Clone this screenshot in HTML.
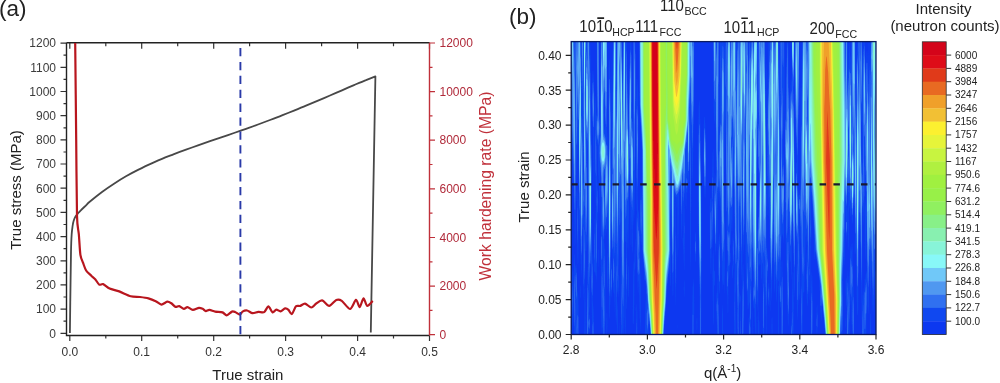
<!DOCTYPE html>
<html><head><meta charset="utf-8"><style>
html,body{margin:0;padding:0;background:#fff;width:1000px;height:383px;overflow:hidden}
svg{display:block;font-family:"Liberation Sans",sans-serif;filter:blur(0.3px)}
</style></head><body>
<svg width="1000" height="383" viewBox="0 0 1000 383">
<defs><filter id="hb" x="-5%" y="-5%" width="110%" height="110%"><feGaussianBlur stdDeviation="0.7"/></filter></defs>
<g fill="none" stroke-linecap="butt">
<path d="M69.8 335.5v5.5M69.8 42.8v6M105.8 335.5v3M105.8 42.8v3.5M141.7 335.5v5.5M141.7 42.8v6M177.7 335.5v3M177.7 42.8v3.5M213.7 335.5v5.5M213.7 42.8v6M249.6 335.5v3M249.6 42.8v3.5M285.6 335.5v5.5M285.6 42.8v6M321.6 335.5v3M321.6 42.8v3.5M357.6 335.5v5.5M357.6 42.8v6M393.5 335.5v3M393.5 42.8v3.5M429.5 335.5v5.5M429.5 42.8v6M66.5 333.3h-6M66.5 321.2h-3M66.5 309.1h-6M66.5 297.0h-3M66.5 284.9h-6M66.5 272.9h-3M66.5 260.8h-6M66.5 248.7h-3M66.5 236.6h-6M66.5 224.5h-3M66.5 212.4h-6M66.5 200.3h-3M66.5 188.2h-6M66.5 176.1h-3M66.5 164.0h-6M66.5 152.0h-3M66.5 139.9h-6M66.5 127.8h-3M66.5 115.7h-6M66.5 103.6h-3M66.5 91.5h-6M66.5 79.4h-3M66.5 67.3h-6M66.5 55.2h-3M66.5 43.1h-6" stroke="#333" stroke-width="1.2"/>
<path d="M429.5 334.7h5.5M429.5 310.4h3M429.5 286.1h5.5M429.5 261.8h3M429.5 237.5h5.5M429.5 213.1h3M429.5 188.8h5.5M429.5 164.5h3M429.5 140.2h5.5M429.5 115.9h3M429.5 91.6h5.5M429.5 67.3h3M429.5 43.0h5.5" stroke="#c0303a" stroke-width="1.2"/>
<path d="M66.5 42.8V335.5H429.5M66.5 42.8H429.5" stroke="#222" stroke-width="1.4"/>
<path d="M429.5 42.8V335.5" stroke="#c0303a" stroke-width="1.4"/>
</g>
<g font-size="12" fill="#3c3c3c" text-anchor="end">
<text x="56" y="337.6">0</text>
<text x="56" y="313.4">100</text>
<text x="56" y="289.2">200</text>
<text x="56" y="265.1">300</text>
<text x="56" y="240.9">400</text>
<text x="56" y="216.7">500</text>
<text x="56" y="192.5">600</text>
<text x="56" y="168.3">700</text>
<text x="56" y="144.2">800</text>
<text x="56" y="120.0">900</text>
<text x="56" y="95.8">1000</text>
<text x="56" y="71.6">1100</text>
<text x="56" y="47.4">1200</text>
</g>
<g font-size="12" fill="#b02a3a" text-anchor="start">
<text x="439.5" y="338.9">0</text>
<text x="439.5" y="290.3">2000</text>
<text x="439.5" y="241.7">4000</text>
<text x="439.5" y="193.0">6000</text>
<text x="439.5" y="144.4">8000</text>
<text x="439.5" y="95.8">10000</text>
<text x="439.5" y="47.2">12000</text>
</g>
<g font-size="12" fill="#333" text-anchor="middle">
<text x="69.8" y="356">0.0</text>
<text x="141.7" y="356">0.1</text>
<text x="213.7" y="356">0.2</text>
<text x="285.6" y="356">0.3</text>
<text x="357.6" y="356">0.4</text>
<text x="429.5" y="356">0.5</text>
</g>
<text x="212.3" y="379.8" font-size="15" fill="#222">True strain</text>
<text transform="translate(21.2 190) rotate(-90)" font-size="15" fill="#222" text-anchor="middle">True stress (MPa)</text>
<text transform="translate(490.8 186) rotate(-90)" font-size="15.7" fill="#c0303a" text-anchor="middle">Work hardening rate (MPa)</text>
<text x="-1" y="16.3" font-size="22.5" fill="#222">(a)</text>
<path d="M69.9 333.0 C70.0 327.5 70.1 313.5 70.3 300.0 C70.5 286.5 70.8 263.0 71.0 252.0 C71.2 241.0 71.4 238.3 71.7 234.0 C72.0 229.7 72.3 228.2 72.6 226.0 C72.9 223.8 73.1 222.6 73.6 221.0 C74.1 219.4 74.7 217.8 75.5 216.5 C76.3 215.2 76.8 214.7 78.3 213.0 C79.8 211.3 82.8 208.4 84.8 206.5 C86.8 204.6 87.1 203.9 90.0 201.5 C92.9 199.1 98.0 195.0 102.0 192.0 C106.0 189.0 110.0 186.3 114.0 183.7 C118.0 181.1 122.0 178.6 126.0 176.3 C130.0 174.0 134.0 171.9 138.0 169.9 C142.0 167.9 146.0 165.9 150.0 164.1 C154.0 162.3 158.0 160.6 162.0 158.9 C166.0 157.2 170.0 155.7 174.0 154.1 C178.0 152.5 182.0 151.0 186.0 149.6 C190.0 148.2 194.0 146.8 198.0 145.4 C202.0 144.0 206.0 142.6 210.0 141.2 C214.0 139.8 218.0 138.5 222.0 137.1 C226.0 135.7 230.0 134.4 234.0 133.0 C238.0 131.6 242.0 130.2 246.0 128.8 C250.0 127.4 254.0 126.0 258.0 124.5 C262.0 123.0 266.0 121.5 270.0 120.0 C274.0 118.5 278.0 117.0 282.0 115.4 C286.0 113.8 290.0 112.2 294.0 110.6 C298.0 109.0 302.0 107.4 306.0 105.7 C310.0 104.0 314.0 102.3 318.0 100.6 C322.0 98.9 326.0 97.2 330.0 95.5 C334.0 93.8 338.0 92.0 342.0 90.3 C346.0 88.6 350.0 86.8 354.0 85.1 C358.0 83.4 362.4 81.5 366.0 80.1 C369.6 78.6 373.8 77.0 375.4 76.4 L370.8 332.5" fill="none" stroke="#484848" stroke-width="1.8" stroke-linejoin="round"/>
<path d="M75.2 43.0 C75.3 55.9 76.0 117.0 76.2 140.0 C76.4 163.0 76.7 203.2 77.0 215.7 C77.3 228.2 78.3 228.8 78.8 234.0 C79.3 239.2 79.8 251.0 80.4 254.8 C81.0 258.6 82.2 260.6 83.0 262.7 C83.8 264.8 85.0 268.8 86.1 270.5 C87.2 272.2 90.1 274.5 91.3 275.7 C92.5 276.9 94.1 278.0 95.2 279.2 C96.3 280.4 98.1 283.9 99.2 284.6 C100.3 285.3 101.7 283.6 103.1 284.1 C104.5 284.6 107.5 287.6 109.6 288.6 C111.7 289.6 116.4 290.4 119.2 291.4 C122.0 292.4 127.9 295.5 130.7 296.2 C133.5 296.9 137.6 296.7 140.0 297.0 C142.4 297.3 146.3 297.8 148.4 298.4 C150.5 299.0 154.0 300.4 155.7 301.2 C157.4 302.0 159.9 304.5 161.4 304.6 C162.9 304.7 165.9 301.9 167.2 301.7 C168.5 301.5 170.2 302.6 171.3 303.3 C172.4 304.0 174.4 306.5 175.5 306.9 C176.6 307.3 178.1 305.8 179.2 306.1 C180.3 306.4 182.8 308.7 183.9 308.8 C185.0 308.9 186.3 307.1 187.5 307.2 C188.7 307.3 191.3 309.8 192.8 309.9 C194.3 310.0 197.7 307.9 199.0 307.8 C200.3 307.7 201.8 308.4 202.7 308.8 C203.6 309.2 204.9 311.0 205.8 311.1 C206.7 311.2 208.2 309.8 209.5 309.9 C210.8 310.0 213.5 311.3 215.2 311.6 C216.9 311.9 221.0 311.9 222.5 312.4 C224.0 312.9 225.4 315.4 226.7 315.3 C228.0 315.2 230.9 312.0 232.0 311.6 C233.1 311.2 234.0 311.6 235.1 312.0 C236.2 312.4 239.0 314.7 240.0 314.6 C241.0 314.5 241.6 312.1 242.5 311.6 C243.4 311.1 245.8 310.3 247.1 310.5 C248.4 310.7 251.0 313.0 252.5 313.2 C254.0 313.4 256.8 312.0 258.4 311.9 C260.0 311.8 262.9 312.8 264.2 312.1 C265.5 311.4 267.3 306.3 268.4 306.3 C269.5 306.3 271.5 312.0 272.6 312.4 C273.7 312.8 275.2 309.7 276.3 309.6 C277.4 309.5 279.3 311.5 280.5 311.3 C281.7 311.1 284.0 308.6 285.1 308.4 C286.2 308.2 287.6 309.1 288.5 309.9 C289.4 310.7 290.8 314.6 291.8 314.1 C292.8 313.6 294.9 307.4 296.0 306.3 C297.1 305.2 299.0 306.3 300.2 305.9 C301.4 305.5 303.5 303.4 305.0 303.6 C306.5 303.8 309.8 307.5 311.3 307.5 C312.8 307.5 314.5 304.7 315.9 303.8 C317.3 302.9 320.3 300.1 322.1 300.4 C323.9 300.7 327.3 306.0 329.2 305.9 C331.1 305.8 334.6 300.7 336.3 300.0 C338.0 299.3 340.0 299.7 341.8 300.9 C343.6 302.1 348.2 309.1 350.1 309.0 C352.0 308.9 354.7 300.2 356.0 299.9 C357.3 299.6 358.7 307.3 359.7 307.1 C360.7 306.9 362.5 298.6 363.5 298.4 C364.5 298.2 366.0 305.6 367.2 305.9 C368.4 306.2 372.0 301.6 372.7 300.9" fill="none" stroke="#b8161e" stroke-width="2.2" stroke-linejoin="round"/>
<path d="M240.4 48V336" stroke="#2a3aa8" stroke-width="1.9" stroke-dasharray="8.3 5.6"/>
<svg x="571.2" y="41.6" width="304.80" height="292.90" viewBox="571.2 41.6 304.80 292.90" overflow="hidden"><g filter="url(#hb)"><rect x="568.2" y="38.6" width="310.8" height="298.9" fill="#0c38f0"/><path fill="#1048f0" d="M593.7 335.6 592.0 335.6 591.8 306.6 591.1 283.6 591.2 260.5 590.7 261.7 590.0 284.6 589.7 315.6 590.1 321.6 590.0 328.6 589.2 332.4 588.7 331.7 588.4 335.6 586.6 335.6 587.3 277.6 587.7 266.2 588.2 267.3 588.3 262.6 588.1 159.6 587.7 142.6 587.7 142.3 587.0 151.6 587.6 199.6 586.9 239.6 586.2 251.7 585.7 250.6 585.6 251.6 585.2 275.5 584.5 287.6 584.2 288.3 583.7 301.8 583.4 286.6 583.2 224.6 583.2 223.9 582.7 225.7 582.6 227.6 581.8 269.6 581.2 278.0 580.4 245.6 580.2 191.6 580.2 191.0 579.9 215.6 579.2 233.8 578.8 211.6 578.7 141.6 578.7 140.1 578.2 144.4 577.7 138.9 576.1 179.6 575.7 233.6 575.2 244.3 574.7 246.5 574.6 232.6 572.7 154.3 572.2 177.8 571.7 180.4 571.1 61.6 570.6 39.6 583.5 39.6 583.7 51.1 583.7 39.6 586.8 39.6 587.2 51.8 587.3 39.6 589.9 39.6 590.7 60.6 590.7 100.6 591.5 143.6 591.6 191.6 592.1 249.6 592.2 253.1 592.7 257.0 592.9 264.6 593.0 286.6 592.7 300.6 593.7 312.6 594.0 335.6 593.7 335.6ZM604.2 335.6 603.3 335.6 603.2 328.2 602.7 327.3 602.2 334.9 601.9 333.6 601.7 332.4 601.2 320.8 601.1 287.6 600.7 251.6 601.0 229.6 600.7 172.6 600.2 170.1 599.7 217.4 598.7 181.3 598.2 174.4 597.6 146.6 597.5 144.6 596.7 140.6 596.9 171.6 597.5 184.6 597.8 201.6 597.6 216.6 597.1 229.6 597.0 264.6 596.7 283.2 595.7 272.1 595.2 276.2 594.7 271.6 594.2 272.3 593.9 270.6 593.6 265.6 593.7 256.6 594.3 247.6 594.6 222.6 594.7 219.6 595.2 217.1 595.7 236.0 595.9 204.6 595.0 168.6 594.8 116.6 595.2 95.6 595.7 99.3 596.2 115.7 596.7 115.4 597.2 111.6 596.7 39.6 598.9 39.6 599.2 114.6 599.9 121.6 600.2 133.9 600.7 39.6 607.1 39.6 606.9 129.6 607.6 139.6 607.9 148.6 608.2 184.5 608.7 138.6 608.5 83.6 608.7 68.6 609.2 58.0 609.7 61.3 610.4 79.6 610.9 110.6 611.1 140.6 611.0 205.6 610.6 271.6 610.7 281.5 611.0 265.6 611.7 260.8 612.1 270.6 612.0 286.6 611.7 294.0 611.2 298.2 610.8 293.6 610.7 286.8 609.7 319.9 609.2 315.9 608.7 282.5 608.3 273.6 608.4 232.6 608.2 222.4 607.7 214.2 607.2 228.8 606.7 229.1 605.7 237.1 605.2 222.3 604.3 237.6 603.9 240.6 604.7 248.7 605.2 250.6 605.4 276.6 605.3 319.6 604.7 328.3 604.6 335.6 604.2 335.6ZM625.2 335.6 625.0 335.6 624.5 315.6 624.2 281.9 623.9 315.6 623.5 335.6 622.6 335.6 622.2 328.0 621.9 335.6 621.0 335.6 620.6 286.6 620.8 270.6 621.3 254.6 621.2 245.8 620.2 220.9 619.7 229.3 618.6 270.6 618.7 274.4 619.2 275.8 619.2 279.6 619.2 289.4 618.7 299.1 618.2 286.1 617.7 291.4 617.2 292.9 617.0 296.6 617.2 310.8 617.7 301.9 617.8 304.6 617.8 335.6 617.3 335.6 617.2 334.6 616.7 314.2 616.2 325.3 615.6 315.6 615.2 245.9 614.7 254.8 614.6 262.6 615.0 283.6 614.7 315.8 614.2 294.6 613.4 291.6 613.0 286.6 612.8 263.6 612.0 247.6 611.5 219.6 611.4 192.6 611.8 142.6 611.4 103.6 611.6 70.6 612.2 44.2 612.7 105.3 613.2 39.6 616.1 39.6 616.1 66.6 616.7 76.9 617.1 39.6 621.8 39.6 622.7 83.7 623.2 58.3 623.3 39.6 625.7 39.6 625.7 88.2 625.8 39.6 626.7 39.6 627.5 75.6 627.7 103.0 628.5 126.6 628.7 144.4 629.3 73.6 630.3 39.6 631.4 39.6 631.8 66.6 631.7 104.6 632.3 111.6 632.7 129.1 633.2 133.9 633.2 39.6 635.3 39.6 635.6 63.6 635.5 97.6 635.1 130.6 635.1 176.6 634.4 213.6 633.7 226.1 633.2 210.2 632.8 229.6 632.9 244.6 632.7 249.4 632.2 253.4 631.8 245.6 632.1 231.6 631.7 216.6 631.2 243.0 630.7 246.3 630.3 203.6 630.0 197.6 630.1 186.6 629.2 170.3 628.9 186.6 629.0 212.6 628.2 251.6 627.6 245.6 627.2 229.1 626.9 234.6 627.2 268.6 626.7 309.4 626.2 308.6 626.0 299.6 626.0 262.6 626.2 244.6 626.2 242.9 625.7 241.3 625.2 242.4 624.7 199.3 624.4 251.6 625.3 278.6 625.6 315.6 625.9 323.6 625.5 335.6 625.2 335.6ZM663.2 335.6 650.5 335.6 649.2 320.4 648.9 322.6 648.5 335.6 647.8 335.6 647.7 335.2 647.6 335.6 647.0 335.6 646.7 332.7 646.5 335.6 644.9 335.6 645.2 312.1 645.7 299.3 646.2 302.5 646.2 288.6 645.2 279.5 644.7 279.4 644.2 281.6 643.9 268.6 642.4 250.6 642.2 216.7 642.0 237.6 641.8 241.6 641.2 245.8 640.7 239.6 640.3 228.6 640.2 204.6 640.7 187.8 641.2 188.9 641.7 199.2 641.9 194.6 642.1 150.6 639.6 104.6 639.3 39.6 694.3 39.6 693.4 137.6 692.7 175.5 692.2 185.9 691.8 153.6 691.2 131.9 691.2 133.6 691.1 240.6 690.7 273.6 690.2 255.2 690.0 233.6 689.7 132.6 689.9 108.6 689.7 104.6 689.7 145.6 689.3 168.6 688.7 181.9 688.2 182.9 687.7 172.8 687.6 173.6 687.6 185.6 687.2 193.5 687.1 192.6 686.7 191.9 686.6 192.6 686.2 210.2 685.7 204.0 685.2 183.9 684.7 178.2 684.4 200.6 684.8 247.6 684.7 259.6 684.2 272.3 683.4 250.6 682.7 240.6 682.7 238.1 683.2 237.8 683.4 229.6 683.1 179.6 682.7 177.3 682.4 222.6 681.9 237.6 681.7 240.6 681.1 225.6 680.6 193.6 680.2 187.9 679.1 192.6 678.3 246.6 677.7 260.5 677.4 211.6 677.4 208.6 677.7 207.6 677.8 196.6 677.7 195.9 677.5 196.6 677.4 206.6 677.2 207.4 676.7 207.4 676.4 197.6 675.7 196.3 675.4 197.6 675.5 206.6 675.8 211.6 676.0 223.6 676.3 252.6 676.1 289.6 675.7 309.6 675.3 285.6 675.3 220.6 674.9 195.6 674.2 191.7 673.8 269.6 673.2 295.3 672.7 296.1 672.0 271.6 671.7 235.9 671.0 211.6 670.7 173.4 670.5 226.6 670.9 256.6 670.7 283.9 670.2 287.0 669.6 271.6 669.2 268.9 667.0 290.6 665.9 308.6 664.6 321.6 663.6 335.6 663.2 335.6ZM766.7 335.6 766.2 335.6 766.1 324.6 764.7 275.7 764.1 335.6 762.9 335.6 762.8 306.6 763.2 279.6 762.9 261.6 762.7 237.5 762.5 269.6 762.2 289.8 761.7 279.5 761.2 277.5 761.0 273.6 760.7 251.3 760.5 263.6 759.7 266.0 759.2 263.6 758.7 265.5 758.6 267.6 758.5 290.6 758.2 304.6 758.7 319.5 759.2 321.0 759.3 322.6 759.5 335.6 757.8 335.6 757.9 311.6 757.0 300.6 756.7 284.6 756.0 311.6 756.5 335.6 755.4 335.6 754.7 322.1 754.3 309.6 754.2 308.1 753.7 308.5 753.0 301.6 752.9 289.6 753.3 280.6 752.7 244.9 752.4 262.6 751.7 276.0 750.8 335.6 748.6 335.6 748.7 318.6 749.2 316.5 749.7 312.5 749.7 301.6 748.2 309.1 747.7 309.4 747.2 295.6 746.5 288.6 745.6 260.6 745.4 230.6 745.7 191.6 745.2 180.8 744.8 192.6 744.4 240.6 743.7 255.0 743.1 242.6 742.7 215.1 742.5 217.6 742.3 260.6 741.7 282.2 741.1 265.6 740.2 222.2 739.7 226.7 739.6 259.6 739.0 278.6 739.2 298.6 738.7 319.6 738.8 335.6 737.3 335.6 737.3 307.6 736.7 264.8 736.2 289.5 735.6 294.6 735.5 300.6 735.8 314.6 735.9 335.6 735.3 335.6 735.2 331.5 735.1 335.6 734.1 335.6 734.1 290.6 734.9 256.6 734.6 215.6 733.7 169.6 733.2 179.6 732.8 208.6 732.2 230.6 732.2 231.0 731.7 230.7 731.2 218.8 730.9 242.6 730.7 246.2 730.2 243.3 730.1 246.6 730.2 253.0 730.7 253.1 730.7 253.6 730.8 260.6 730.7 262.2 730.2 262.5 729.9 264.6 729.3 275.6 728.6 279.6 728.3 288.6 728.2 311.9 727.7 313.5 727.4 297.6 726.8 290.6 726.6 281.6 726.8 268.6 727.5 259.6 726.8 245.6 726.5 226.6 725.8 116.6 725.7 113.2 724.7 170.3 724.4 163.6 724.2 107.4 724.0 142.6 724.3 208.6 725.1 266.6 724.7 296.8 724.3 281.6 724.2 259.7 724.1 275.6 723.9 283.6 723.7 285.7 723.2 284.1 722.7 279.7 722.2 290.9 721.5 256.6 721.2 184.3 720.9 204.6 720.2 211.6 719.4 198.6 719.2 180.4 718.9 190.6 717.8 206.6 717.2 252.6 716.5 242.6 716.2 217.4 716.1 244.6 715.7 256.3 715.1 248.6 714.5 226.6 714.3 190.6 714.7 172.5 715.3 177.6 715.7 193.2 716.2 145.5 715.7 106.4 715.2 129.4 714.7 121.7 714.2 120.5 713.8 110.6 713.4 83.6 713.2 39.6 718.8 39.6 718.7 118.6 719.2 138.0 719.7 114.6 720.1 39.6 721.6 39.6 721.7 45.9 722.0 39.6 723.6 39.6 724.1 49.6 724.2 69.9 724.4 39.6 736.4 39.6 736.7 86.7 736.8 39.6 748.3 39.6 748.7 77.5 749.3 39.6 757.6 39.6 757.5 138.6 756.8 180.6 756.8 212.6 756.9 228.6 757.7 231.8 758.4 211.6 758.7 206.8 759.2 204.9 759.3 199.6 759.3 184.6 758.5 172.6 757.9 143.6 757.9 124.6 758.3 112.6 758.4 39.6 765.0 39.6 765.7 127.6 766.4 176.6 766.5 217.6 766.7 230.6 766.5 237.6 766.9 250.6 767.7 255.6 768.0 264.6 767.8 273.6 767.7 275.6 767.2 277.2 767.0 280.6 766.9 308.6 766.5 322.6 766.8 328.6 766.7 335.6ZM782.7 335.6 781.3 335.6 781.4 308.6 781.2 299.7 780.7 307.9 780.2 307.2 780.0 305.6 779.2 289.0 778.9 296.6 778.9 335.6 778.0 335.6 778.1 289.6 778.2 286.0 778.7 285.8 778.8 281.6 778.7 279.9 778.2 281.9 777.7 278.3 776.7 299.7 776.2 302.6 775.7 272.6 775.2 277.4 774.7 293.6 774.2 290.3 773.8 267.6 773.2 208.5 772.7 229.8 772.3 273.6 771.7 302.4 771.2 296.3 770.0 247.6 769.7 220.6 769.3 215.6 768.7 197.8 768.2 215.7 767.7 215.1 767.6 212.6 767.3 193.6 767.3 166.6 766.6 122.6 766.4 87.6 766.6 64.6 766.7 61.4 767.2 74.6 767.7 106.6 768.4 78.6 768.5 39.6 769.7 39.6 769.7 40.8 769.7 39.6 774.1 39.6 774.2 47.7 774.2 39.6 778.5 39.6 778.7 49.3 779.7 61.9 779.8 68.6 779.9 98.6 779.7 131.6 780.2 191.6 780.7 143.6 780.4 122.6 780.4 39.6 784.7 39.6 784.7 90.6 784.2 130.4 783.7 129.9 783.2 92.2 783.1 127.6 783.1 150.6 783.2 153.5 783.8 157.6 784.1 170.6 784.2 231.6 783.7 244.1 783.1 237.6 782.2 233.4 781.2 243.4 780.7 281.6 781.2 291.9 781.6 263.6 781.7 261.7 782.2 259.4 783.0 296.6 783.0 329.6 782.9 335.6 782.7 335.6ZM788.2 326.8 787.5 311.6 786.7 267.5 786.2 264.8 786.0 254.6 785.4 206.6 785.4 168.6 785.1 126.6 786.0 100.6 786.8 39.6 788.4 39.6 788.6 72.6 789.2 94.5 789.7 101.7 790.2 95.3 790.7 80.6 791.2 78.1 791.7 82.2 791.8 79.6 792.0 69.6 791.7 39.6 793.2 39.5 794.1 39.6 794.1 73.6 793.7 95.6 794.5 149.6 795.0 205.6 795.1 259.6 795.0 288.6 794.7 298.8 794.1 287.6 793.6 265.6 792.7 210.2 792.6 218.6 792.1 223.6 791.8 233.6 791.8 266.6 791.7 272.9 791.2 279.9 790.7 261.6 790.2 261.4 789.7 252.2 789.2 260.3 789.0 268.6 789.0 311.6 788.7 323.1 788.2 326.8ZM866.2 335.6 864.4 335.6 864.2 329.1 864.0 335.6 862.0 335.6 860.7 246.6 860.2 241.4 859.7 239.0 859.2 223.0 858.8 235.6 858.2 309.2 857.7 315.5 857.2 314.6 856.6 290.6 856.2 242.5 855.7 254.8 855.2 253.2 855.0 245.6 854.2 158.0 853.9 191.6 853.1 217.6 852.7 222.6 852.2 223.7 851.5 214.6 851.2 200.4 850.7 215.5 850.2 216.9 849.7 205.0 848.7 212.6 848.9 234.6 848.7 251.0 848.2 245.7 848.0 234.6 847.8 213.6 848.2 201.6 847.7 185.4 847.4 200.6 847.6 225.6 846.7 243.6 846.4 237.6 845.8 232.6 845.9 218.6 845.6 215.6 845.2 204.7 844.7 266.7 844.2 260.2 843.7 259.5 842.7 278.6 842.9 307.6 842.6 335.6 841.1 335.6 840.7 332.3 840.6 335.6 825.2 335.6 825.1 332.6 822.2 302.6 821.9 305.6 821.7 317.2 821.2 321.4 820.3 309.6 819.9 291.6 819.5 286.6 819.3 279.6 815.2 251.5 814.8 252.6 814.7 257.0 814.2 259.9 813.9 229.6 811.2 191.1 810.8 195.6 810.8 206.6 811.2 218.6 811.3 233.6 811.0 244.6 810.5 253.6 810.6 282.6 810.2 300.9 809.7 299.2 809.3 277.6 809.3 257.6 809.7 244.0 810.2 247.2 810.3 244.6 810.0 236.6 810.0 218.6 809.7 210.9 809.2 225.2 809.1 271.6 808.7 290.0 808.2 294.7 807.9 302.6 807.2 307.0 806.6 293.6 806.4 272.6 806.6 256.6 807.4 245.6 807.2 239.5 806.7 246.1 806.2 232.8 805.7 237.6 805.2 261.1 804.7 270.5 804.3 290.6 804.2 291.8 803.7 292.8 803.3 292.6 803.2 291.7 802.4 335.6 801.2 335.6 801.2 334.6 801.1 300.6 801.5 271.6 801.2 244.7 800.5 237.6 799.7 213.4 799.2 213.8 799.1 214.6 800.0 264.6 800.3 293.6 800.2 297.3 799.7 300.9 799.2 292.7 798.7 305.8 798.2 291.2 798.0 310.6 797.7 321.3 797.2 315.6 796.8 300.6 796.5 273.6 796.8 247.6 796.4 235.6 795.8 208.6 795.9 170.6 796.2 162.2 796.7 163.2 796.8 160.6 796.7 150.2 796.2 146.3 796.0 139.6 795.5 113.6 795.3 39.6 799.2 39.6 799.3 96.6 799.0 111.6 798.2 132.5 797.7 184.6 797.7 197.2 798.2 190.7 798.7 197.9 798.9 195.6 799.2 194.8 799.7 195.1 799.8 194.6 800.5 182.6 800.6 94.6 800.7 87.5 801.2 87.9 801.4 88.6 801.7 99.2 801.8 61.6 802.2 39.6 847.5 39.6 847.5 70.6 847.7 80.4 848.2 68.6 848.6 64.6 849.2 39.6 850.2 56.6 850.7 57.5 851.2 72.0 851.5 39.6 855.3 39.6 855.7 97.1 856.2 83.6 856.7 52.6 857.7 39.6 862.2 39.6 862.7 55.8 863.2 55.4 863.5 39.6 864.8 39.6 865.7 82.0 866.4 55.6 866.7 51.5 867.2 51.0 867.6 58.6 868.2 83.2 868.7 40.9 869.0 39.6 869.2 39.6 869.7 68.4 870.0 64.6 870.2 51.6 870.7 39.6 876.1 39.6 876.2 58.7 876.7 68.0 877.0 85.6 877.1 140.6 876.5 213.6 875.6 255.6 876.3 261.6 876.8 275.6 876.9 290.6 876.7 304.6 876.2 312.6 875.7 311.7 875.3 304.6 874.7 274.2 874.2 287.1 873.7 316.0 873.3 309.6 873.2 295.2 873.1 307.6 872.7 313.3 871.7 264.3 871.2 275.6 871.1 289.6 870.7 296.1 870.1 284.6 869.7 263.8 869.3 271.6 868.8 306.6 868.2 315.5 867.6 303.6 867.2 281.6 867.0 306.6 866.4 321.6 866.2 335.6ZM585.7 46.6 585.7 40.0 585.7 46.6ZM727.2 75.6 727.2 59.2 727.2 75.6ZM594.2 196.7 593.6 185.6 592.9 136.6 592.4 122.6 592.0 105.6 592.1 84.6 592.7 70.9 593.2 71.6 593.8 79.6 594.5 105.6 594.5 122.6 594.2 131.6 594.5 141.6 594.5 169.6 594.2 196.7ZM870.2 127.6 870.2 78.3 870.2 128.0 870.2 127.6ZM640.7 333.4 640.2 323.5 639.7 317.6 639.0 282.6 638.7 279.9 638.2 294.3 637.7 288.0 636.9 252.6 636.7 232.6 636.2 258.5 636.0 250.6 635.9 233.6 636.2 213.6 636.7 222.7 636.9 211.6 636.5 203.6 635.8 143.6 636.1 104.6 636.7 79.0 637.2 79.0 637.9 86.6 638.2 92.7 638.3 134.6 637.6 195.6 638.2 212.8 638.7 209.2 639.2 217.6 639.8 234.6 640.1 268.6 640.7 279.6 640.9 290.6 640.9 314.6 640.7 333.4ZM585.7 101.6 585.7 86.3 585.7 102.4 585.7 101.6ZM581.7 93.6 581.7 87.3 581.7 93.6ZM721.2 117.6 721.2 93.8 721.2 118.0 721.2 117.6ZM700.7 335.6 699.8 335.6 699.7 303.6 698.9 266.6 698.4 214.6 698.3 133.6 698.7 108.0 699.2 99.3 699.7 104.3 700.5 129.6 701.4 209.6 701.5 280.6 701.1 335.6 700.7 335.6ZM604.8 129.6 604.9 125.6 604.7 109.6 604.2 101.0 604.0 109.6 604.1 126.6 604.2 129.2 604.7 130.2 604.8 129.6ZM862.4 162.6 862.2 103.3 861.8 119.6 861.7 121.5 861.2 122.3 861.1 129.6 861.7 163.0 862.2 163.4 862.4 162.6ZM851.7 123.6 851.7 114.2 851.7 124.2 851.7 123.6ZM583.7 175.6 583.2 115.8 582.7 122.6 582.8 164.6 583.0 170.6 583.7 175.6ZM705.2 198.0 704.7 196.2 704.1 184.6 703.5 154.6 703.8 125.6 704.2 117.7 704.7 116.5 705.5 129.6 706.1 156.6 705.9 183.6 705.7 191.6 705.2 198.0ZM580.7 148.6 580.7 145.5 580.7 149.6 580.7 148.6ZM711.2 273.9 710.7 273.3 710.1 254.6 709.8 229.6 709.8 208.6 710.2 197.4 710.7 199.7 711.2 197.4 711.5 200.6 711.7 211.1 711.8 191.6 712.5 161.6 712.7 153.9 713.2 147.6 713.5 157.6 713.7 172.6 713.2 214.6 713.2 238.6 712.9 247.6 712.7 248.4 712.2 237.0 711.7 242.2 711.2 273.9ZM586.7 148.6 586.7 149.1 586.7 148.6ZM862.2 305.6 863.2 286.5 863.7 296.2 864.2 291.5 864.7 279.0 865.2 279.7 866.2 271.3 866.7 274.0 866.9 269.6 866.7 237.9 866.2 216.9 865.7 253.7 865.2 260.1 864.9 250.6 864.8 229.6 864.9 208.6 865.2 198.8 865.7 207.7 865.9 199.6 865.2 162.1 864.7 151.4 864.5 211.6 863.7 227.1 863.2 211.3 862.7 204.4 862.2 218.6 862.2 305.6ZM718.7 153.6 718.7 153.2 718.7 154.4 718.7 153.6ZM737.2 194.6 737.2 162.2 736.7 180.6 737.2 194.6ZM862.7 170.6 862.7 165.3 862.7 171.3 862.7 170.6ZM683.2 173.6 683.2 170.8 683.2 174.0 683.2 173.6ZM604.7 196.6 604.9 180.6 604.7 173.8 604.0 175.6 603.8 179.6 604.7 197.4 604.7 196.6ZM577.7 265.1 577.3 245.6 577.1 216.6 577.3 195.6 577.7 182.3 578.4 204.6 578.5 224.6 578.2 260.6 578.2 262.3 577.7 265.1ZM762.7 203.6 762.7 182.5 762.7 204.3 762.7 203.6ZM576.7 201.1 576.4 194.6 576.7 189.8 577.0 192.6 577.1 197.6 577.0 200.6 576.7 201.1ZM584.3 216.6 584.2 203.6 583.9 212.6 584.2 217.3 584.3 216.6ZM593.7 215.7 593.5 212.6 593.7 209.6 593.7 215.7ZM571.7 234.1 571.2 230.6 570.9 220.6 571.2 210.8 571.7 210.8 572.2 223.6 572.1 229.6 571.7 234.1ZM618.2 224.6 618.2 211.7 618.2 225.2 618.2 224.6ZM788.7 238.6 788.9 228.6 788.7 218.2 788.3 227.6 788.7 239.3 788.7 238.6ZM686.2 236.3 686.2 219.9 686.2 236.3ZM781.7 228.6 781.7 221.0 781.7 228.6ZM584.8 230.6 585.0 228.6 584.7 224.7 584.8 230.6ZM737.3 245.6 737.7 243.4 737.7 240.6 737.7 235.1 737.2 229.0 737.2 246.3 737.3 245.6ZM732.7 278.4 732.2 277.8 732.0 270.6 732.2 266.2 732.7 264.6 732.8 262.6 732.5 239.6 733.2 231.2 733.8 246.6 733.9 260.6 733.8 265.6 733.1 270.6 732.7 278.4ZM587.7 247.2 587.4 240.6 587.7 232.4 588.1 238.6 587.7 247.2ZM695.7 262.7 695.2 260.8 695.1 258.6 694.8 246.6 695.1 234.6 695.2 232.7 695.7 231.9 696.1 238.6 696.3 247.6 696.1 256.6 695.7 262.7ZM719.2 293.7 718.5 283.6 718.3 260.6 718.5 241.6 719.2 232.4 719.7 236.2 720.0 242.6 720.3 265.6 720.0 287.6 719.7 292.6 719.2 293.7ZM585.2 243.6 585.2 233.0 585.2 244.1 585.2 243.6ZM633.2 324.5 632.9 323.6 632.8 319.6 633.1 274.6 633.7 260.2 634.2 263.2 634.2 262.6 635.2 237.7 635.5 244.6 635.5 261.6 635.2 267.8 634.7 269.8 634.5 272.6 634.1 310.6 633.7 322.7 633.2 324.5ZM854.2 256.6 853.9 249.6 854.2 240.1 854.4 247.6 854.2 256.6ZM853.7 335.6 852.4 335.6 852.2 324.6 851.7 324.5 851.6 322.6 851.4 309.6 851.7 308.9 852.0 309.6 852.2 314.2 852.2 298.6 852.2 297.7 851.7 302.4 851.5 308.6 851.2 309.2 850.5 300.6 850.2 286.9 849.9 292.6 849.6 325.6 849.7 335.6 846.7 335.6 846.9 308.6 846.7 306.0 846.2 304.4 846.1 302.6 845.7 291.6 845.7 281.6 846.2 277.2 846.8 280.6 847.2 292.8 847.7 269.7 848.7 285.2 849.2 269.0 849.7 280.6 850.0 258.6 850.3 249.6 850.7 245.8 851.2 251.8 851.7 244.5 852.2 243.3 852.7 250.6 852.5 259.6 852.9 267.6 853.2 282.6 853.7 291.1 854.0 302.6 854.1 332.6 854.1 335.6 853.7 335.6ZM598.2 269.5 598.2 249.9 598.7 249.4 598.7 262.6 598.2 269.5ZM713.2 325.3 712.5 276.6 712.7 256.6 713.2 248.8 713.7 256.6 714.0 269.6 714.2 271.3 714.7 270.4 714.9 271.6 715.1 278.6 714.7 285.6 714.2 284.9 714.0 286.6 713.8 304.6 713.9 317.6 713.7 321.9 713.2 325.3ZM607.7 290.0 607.2 286.3 607.0 270.6 607.2 255.4 607.7 252.2 608.2 271.6 607.7 290.0ZM578.2 335.6 575.7 335.6 575.7 334.1 575.6 335.6 574.2 335.6 573.8 289.6 573.9 268.6 574.2 254.6 574.7 254.9 574.7 255.6 575.2 270.5 575.5 266.6 576.2 264.3 576.3 265.6 576.9 274.6 577.2 290.2 577.7 291.8 578.2 295.3 578.6 310.6 578.7 332.6 578.7 335.6 578.2 335.6ZM764.2 269.6 764.4 262.6 764.2 254.2 764.0 263.6 764.2 269.6ZM602.8 266.6 603.2 263.6 603.2 260.3 602.7 258.3 602.7 267.4 602.8 266.6ZM743.2 335.6 742.1 335.6 742.0 315.6 742.4 269.6 743.2 262.5 743.8 278.6 744.0 303.6 743.6 335.6 743.2 335.6ZM628.2 298.2 627.8 290.6 627.8 279.6 628.2 267.2 628.7 265.5 629.0 273.6 629.0 284.6 628.7 294.5 628.2 298.2ZM572.7 332.4 572.1 323.6 571.9 299.6 572.2 272.5 572.7 267.3 573.4 276.6 573.6 291.6 573.4 314.6 572.7 332.4ZM621.7 276.6 621.7 269.4 621.7 277.3 621.7 276.6ZM812.2 335.6 810.9 335.6 810.8 332.6 811.0 286.6 811.7 271.4 812.2 276.6 812.7 298.6 812.6 335.6 812.2 335.6ZM793.2 335.6 790.9 335.6 791.1 325.6 791.8 318.6 792.0 296.6 792.7 271.8 793.2 272.3 793.4 274.6 793.8 305.6 793.7 329.5 793.5 335.6 793.2 335.6ZM718.7 335.6 717.4 335.6 717.2 318.1 716.7 322.7 716.4 315.6 716.5 296.6 716.7 292.7 717.2 293.1 717.7 276.2 718.4 292.6 718.9 334.6 718.9 335.6 718.7 335.6ZM735.2 286.6 735.2 276.7 735.2 287.4 735.2 286.6ZM779.7 284.6 779.7 276.8 779.5 283.6 779.7 284.6ZM693.2 335.6 692.3 335.6 692.3 305.6 692.7 287.5 693.7 278.0 694.1 291.6 694.2 310.6 693.7 335.6 693.2 335.6ZM684.2 297.8 683.8 288.6 684.2 279.1 684.6 283.6 684.7 288.6 684.6 293.6 684.2 297.8ZM768.2 307.1 767.9 301.6 767.7 292.6 767.9 285.6 768.2 281.7 769.0 289.6 769.1 293.6 768.8 303.6 768.2 307.1ZM580.7 298.4 580.2 297.2 580.2 292.6 580.2 288.5 580.7 283.8 580.9 289.6 580.7 298.4ZM770.2 312.2 769.4 299.6 769.4 290.6 769.7 287.5 770.2 287.5 770.4 291.6 770.5 303.6 770.2 312.2ZM585.7 335.6 584.3 335.6 584.6 290.6 584.7 288.8 585.2 288.3 585.6 309.6 585.7 335.6ZM741.2 335.6 740.2 335.6 740.4 304.6 740.2 300.4 739.7 305.1 739.3 301.6 739.3 295.6 739.7 291.2 740.2 295.6 740.7 295.9 740.8 298.6 741.2 335.6ZM847.2 298.6 847.2 296.0 847.2 299.3 847.2 298.6ZM575.7 310.6 576.0 305.6 575.7 300.3 575.7 310.6ZM637.2 335.6 636.3 335.6 636.3 314.6 636.7 302.0 637.2 310.2 637.4 318.6 637.5 335.6 637.2 335.6ZM635.7 314.8 635.7 303.8 635.9 310.6 635.7 314.8ZM723.2 335.6 722.2 335.6 722.0 329.6 722.0 314.6 722.7 303.8 723.0 310.6 723.0 328.6 723.5 335.6 723.2 335.6ZM816.7 335.6 816.4 328.6 816.4 316.6 816.7 308.6 817.2 303.9 817.5 312.6 817.5 326.6 817.2 335.1 816.7 335.6ZM589.6 314.6 589.2 306.8 588.9 314.6 589.2 315.0 589.6 314.6ZM753.2 335.6 752.3 335.6 752.7 308.1 753.1 320.6 753.2 335.6ZM606.7 335.6 606.5 335.6 606.3 327.6 606.7 312.4 607.2 314.8 607.3 322.6 607.2 331.6 606.9 335.6 606.7 335.6ZM870.7 335.6 869.9 335.6 869.9 332.6 870.2 314.1 870.7 313.7 871.0 330.6 871.0 335.6 870.7 335.6ZM772.2 335.6 771.7 335.6 771.5 326.6 771.7 319.6 772.2 315.4 772.6 329.6 772.5 335.6 772.2 335.6ZM590.7 335.6 590.7 316.1 590.7 335.6ZM845.7 329.7 845.3 323.6 845.7 316.5 846.0 322.6 845.7 329.7ZM696.7 330.4 696.5 321.6 696.7 318.6 697.2 317.8 697.3 326.6 697.2 328.5 696.7 330.4ZM619.2 335.6 619.0 335.6 618.9 330.6 619.2 318.8 619.4 331.6 619.4 335.6 619.2 335.6ZM677.2 335.5 677.0 326.6 677.2 320.4 677.2 335.5ZM632.7 334.0 632.7 327.4 632.7 334.0ZM860.7 335.6 860.5 335.6 860.5 333.6 860.7 326.8 860.7 335.6ZM722.7 333.6 722.7 332.3 722.7 333.6ZM787.2 335.6 787.2 334.0 787.2 335.6Z"/><path fill="#3070f0" d="M575.2 209.8 574.7 209.7 574.2 193.9 572.7 127.5 572.2 148.4 571.9 140.6 571.4 61.6 570.9 39.6 574.2 39.6 575.4 132.6 575.5 183.6 575.2 209.8ZM579.2 211.3 579.0 178.6 579.2 107.0 578.7 120.8 578.2 118.8 578.2 117.6 577.7 87.3 577.4 114.6 576.9 134.6 576.7 142.6 576.2 145.6 575.9 122.6 575.9 81.6 575.4 59.6 575.5 39.6 578.0 39.6 578.2 44.2 578.2 39.6 580.1 39.6 580.2 48.8 580.5 39.6 580.8 39.6 580.8 40.6 581.1 84.6 580.5 166.6 579.7 205.4 579.2 211.3ZM582.7 94.9 582.0 65.6 581.8 39.6 582.2 39.6 583.0 39.6 583.0 74.6 582.7 94.9ZM586.2 235.3 585.7 230.3 585.2 208.7 584.7 204.4 583.9 154.6 583.5 96.6 583.9 40.6 583.9 39.6 584.7 39.5 585.6 39.6 585.2 92.6 586.1 163.6 586.2 167.1 586.7 167.8 587.0 184.6 586.9 216.6 586.2 235.3ZM588.7 285.7 588.3 100.6 588.2 95.1 587.9 123.6 587.2 141.0 586.6 136.6 586.3 126.6 586.0 109.6 585.9 80.6 586.2 49.0 587.2 61.4 587.5 57.6 587.5 39.6 588.2 39.6 589.0 39.6 589.2 55.0 589.7 61.5 590.2 75.6 590.6 133.6 591.2 146.8 591.4 170.6 591.0 241.6 590.2 264.2 589.7 262.4 588.7 285.7ZM598.2 145.5 598.0 140.6 597.2 137.7 596.9 135.6 596.6 128.6 596.8 121.6 597.6 115.6 597.0 39.6 597.7 39.6 598.6 39.6 598.9 114.6 599.4 127.6 599.2 133.6 598.2 145.5ZM603.2 239.7 602.5 225.6 602.2 197.0 601.7 197.1 601.2 190.6 600.9 168.6 600.0 161.6 599.5 153.6 599.6 146.6 600.1 141.6 600.7 137.7 600.8 135.6 601.0 39.6 606.2 39.5 606.8 39.6 606.8 56.6 606.8 95.6 606.4 122.6 606.2 127.8 605.2 115.9 605.2 88.5 605.0 92.6 604.7 92.9 604.2 86.5 603.5 108.6 603.7 132.6 605.3 137.6 606.2 144.5 606.7 145.6 607.2 146.0 607.8 163.6 607.9 196.6 607.2 212.3 606.7 217.0 606.2 217.2 605.7 226.4 605.1 200.6 605.2 166.7 604.7 168.6 603.7 170.6 603.5 173.6 603.5 185.6 604.3 201.6 604.6 215.6 604.2 229.4 603.7 226.0 603.2 239.7ZM623.2 307.6 622.5 297.6 622.1 265.6 621.7 249.6 621.9 226.6 621.8 195.6 621.7 191.9 621.2 213.4 620.7 206.6 620.7 175.1 620.7 174.6 620.2 174.1 619.4 183.6 619.6 203.6 619.2 226.5 618.7 213.6 618.9 189.6 618.7 183.6 618.2 192.3 617.3 259.6 617.4 271.6 617.2 281.4 616.9 274.6 617.1 259.6 616.2 183.6 615.8 241.6 615.7 243.8 615.2 202.2 615.0 224.6 614.2 257.6 613.7 190.8 613.4 239.6 613.2 245.4 612.7 250.1 612.2 241.3 611.8 220.6 611.8 194.6 612.2 174.8 612.7 173.6 612.3 163.6 612.3 152.6 612.9 115.6 613.6 39.6 615.7 39.6 615.6 93.6 616.2 124.0 616.7 115.0 617.4 39.6 621.4 39.6 622.7 118.8 623.2 123.1 623.6 39.6 625.3 39.6 625.0 139.6 624.7 143.5 624.0 182.6 623.9 265.6 623.2 307.6ZM633.7 182.5 633.9 149.6 633.6 107.6 633.6 54.6 633.6 39.6 634.2 39.6 634.5 39.6 635.2 55.6 635.3 86.6 634.6 154.6 634.2 169.8 633.9 170.6 633.8 172.6 633.7 182.5ZM663.2 335.6 650.8 335.6 650.0 325.6 648.7 312.6 648.4 314.6 648.2 323.1 647.2 330.8 647.1 329.6 646.8 322.6 646.8 314.6 647.2 308.5 647.7 313.0 647.9 304.6 647.4 299.6 647.2 292.8 646.7 294.0 646.6 286.6 644.2 266.6 642.8 249.6 642.4 150.6 639.9 104.6 639.6 39.6 694.0 39.6 693.4 109.6 692.7 149.4 692.4 140.6 692.2 115.4 691.7 126.0 691.1 106.6 690.7 75.1 689.1 107.6 689.4 121.6 689.4 140.6 689.2 158.6 688.7 170.8 688.2 171.2 687.9 161.6 687.7 128.2 687.6 131.6 687.2 132.7 686.8 136.6 686.7 148.0 686.6 142.6 686.2 141.6 685.7 145.6 685.7 147.6 685.2 148.6 685.0 151.6 684.3 189.6 683.7 203.8 683.2 165.3 682.3 176.6 682.1 200.6 681.7 215.6 680.7 183.4 678.7 191.2 676.7 194.7 676.2 194.4 675.0 191.6 674.2 185.9 673.8 184.6 673.7 182.4 673.5 250.6 673.2 270.7 672.7 273.4 672.0 235.6 671.8 171.6 671.7 170.4 671.5 171.6 671.2 189.5 671.0 165.6 670.7 162.4 670.4 163.6 670.3 202.6 669.9 222.6 670.1 253.6 669.7 255.4 668.7 268.6 666.7 287.5 665.5 307.6 664.1 324.6 663.4 335.6 663.2 335.6ZM716.7 225.8 716.4 188.6 716.8 171.6 716.5 158.6 715.7 63.6 715.7 62.1 715.2 102.4 714.7 99.5 714.2 98.3 713.8 80.6 713.5 39.6 714.2 39.6 715.8 39.6 716.0 47.6 716.7 59.1 717.2 39.6 718.5 39.6 718.2 121.6 717.7 149.6 718.3 158.6 718.5 176.6 718.2 186.9 717.7 186.3 717.1 189.6 716.7 225.8ZM738.2 335.6 738.0 335.6 737.9 330.6 737.7 315.6 737.9 308.6 737.5 297.6 737.2 279.6 737.3 266.6 737.7 257.9 738.2 264.7 738.4 259.6 738.1 248.6 738.2 219.6 737.2 148.4 736.7 146.1 736.3 179.6 736.7 244.6 736.2 261.6 735.7 264.8 735.2 243.0 734.5 186.6 734.5 140.6 734.2 129.6 733.7 146.9 733.3 127.6 733.2 96.2 733.0 115.6 732.7 119.4 732.2 116.6 731.8 136.6 731.7 138.5 731.2 134.8 731.1 144.6 731.2 154.9 731.7 148.4 732.2 147.1 732.7 137.6 732.8 174.6 732.2 203.9 731.2 207.6 730.7 200.5 730.2 209.1 729.7 187.7 729.4 217.6 729.2 222.8 728.7 227.1 728.3 223.6 728.1 218.6 727.7 188.9 727.3 205.6 726.7 212.5 726.3 161.6 726.4 94.6 726.3 90.6 725.7 84.6 725.5 79.6 726.0 39.6 726.8 39.6 726.5 82.6 727.2 109.3 727.6 39.6 730.0 39.6 730.2 66.8 730.7 55.4 731.0 39.6 732.7 39.6 732.7 58.4 733.0 39.6 735.8 39.6 736.0 78.6 736.3 104.6 736.7 115.7 736.9 104.6 737.2 48.0 737.7 51.6 737.9 39.6 738.7 39.6 739.2 93.0 739.5 39.6 745.0 39.6 745.2 52.5 745.3 39.6 747.8 39.6 748.7 96.0 749.7 40.8 750.0 44.6 750.2 51.6 750.0 113.6 750.2 121.9 750.3 61.6 750.4 59.6 751.2 55.5 751.6 39.6 752.7 39.6 753.2 49.8 753.7 55.5 753.8 39.6 757.1 39.6 757.3 89.6 757.1 140.6 756.5 178.6 756.6 246.6 755.8 294.6 755.3 303.6 755.2 305.2 754.7 294.5 753.7 301.0 753.4 295.6 753.6 287.6 753.7 286.7 754.2 290.9 754.5 283.6 754.2 251.6 753.7 273.2 753.1 245.6 752.7 163.9 752.5 174.6 752.4 237.6 752.2 249.0 751.7 241.6 751.5 247.6 751.2 282.5 750.8 277.6 750.6 267.6 750.2 266.4 749.7 273.6 749.3 205.6 749.8 167.6 749.9 137.6 749.7 127.8 749.5 154.6 749.1 166.6 748.9 236.6 748.7 251.5 748.2 257.7 747.7 245.7 747.2 241.5 746.9 234.6 746.7 232.6 746.2 231.8 746.1 230.6 745.9 217.6 746.1 174.6 745.7 94.4 744.8 130.6 745.0 162.6 744.6 184.6 744.2 223.4 743.7 236.1 743.2 224.9 742.9 207.6 742.9 132.6 742.7 123.1 742.6 124.6 741.7 251.5 741.2 243.6 740.2 187.0 739.7 207.9 739.2 189.3 739.2 190.6 738.9 213.6 739.4 249.6 739.2 259.6 738.4 269.6 738.6 293.6 738.3 308.6 738.4 330.6 738.4 335.6 738.2 335.6ZM762.2 264.7 760.7 239.3 760.2 253.5 759.7 250.1 758.7 254.5 758.3 243.6 758.4 225.6 758.7 217.8 759.2 215.9 759.3 214.6 759.7 189.6 759.7 173.6 758.7 167.3 758.3 143.6 758.3 131.6 758.7 122.9 759.2 132.0 759.4 127.6 759.2 117.7 758.7 108.3 758.6 89.6 758.7 39.6 759.2 39.6 760.6 39.6 760.7 45.4 761.0 43.6 761.0 39.6 762.6 39.6 762.7 43.5 762.8 39.6 764.6 39.6 766.1 174.6 766.2 201.6 765.9 231.6 765.2 261.4 764.7 252.2 764.2 234.3 763.7 253.4 763.2 249.8 763.0 214.6 763.2 151.8 762.7 156.4 762.6 162.6 762.5 232.6 762.2 264.7ZM776.7 281.2 775.4 249.6 775.2 239.6 774.7 265.3 774.2 259.2 773.9 230.6 773.8 185.6 773.7 179.3 773.2 174.0 772.7 201.0 772.3 252.6 771.7 281.3 770.7 259.8 770.2 241.6 770.1 225.6 770.3 213.6 769.6 183.6 769.2 151.5 768.7 143.3 768.4 146.6 768.2 185.9 767.9 178.6 767.8 162.6 768.1 141.6 767.9 128.6 768.0 106.6 768.8 85.6 769.2 49.6 769.7 62.8 770.2 60.3 770.5 39.6 771.4 39.6 771.7 41.7 771.7 39.6 773.5 39.6 774.2 68.3 774.6 39.6 775.6 39.6 775.7 49.5 775.8 39.6 778.1 39.6 778.2 55.9 779.0 85.6 779.4 125.6 779.7 191.6 779.5 247.6 779.2 259.2 778.7 254.2 778.2 263.3 777.7 242.1 777.1 270.6 776.7 281.2ZM780.2 261.7 779.8 247.6 780.1 237.6 780.5 234.6 780.6 231.6 781.1 144.6 780.7 124.6 780.9 103.6 780.6 39.6 781.2 39.6 781.5 39.6 781.5 97.6 781.7 107.1 782.1 102.6 782.2 87.1 782.7 96.6 782.7 141.4 782.2 127.5 781.9 141.6 782.1 180.6 782.2 185.4 782.6 170.6 783.2 164.4 783.7 171.7 783.9 190.6 783.5 215.6 782.7 224.9 782.2 218.3 781.7 198.9 780.9 219.6 780.5 253.6 780.2 261.7ZM783.2 68.1 782.6 60.6 782.5 39.6 783.5 39.6 783.5 58.6 783.2 68.1ZM794.2 267.8 793.0 209.6 792.7 176.7 792.2 190.6 792.3 212.6 791.8 219.6 791.3 236.6 790.7 246.8 790.2 243.4 790.1 239.6 789.7 212.0 789.2 210.8 788.7 196.9 788.2 200.1 787.7 207.0 787.3 228.6 786.7 239.0 786.3 225.6 786.2 203.6 786.1 202.6 785.7 202.2 785.7 197.6 785.8 168.6 785.4 151.6 785.4 130.6 785.7 119.3 786.2 122.0 786.3 120.6 786.6 80.6 787.2 48.7 787.7 41.4 788.0 86.6 788.7 98.0 789.2 128.5 790.2 155.9 790.4 106.6 790.7 96.1 791.2 90.6 791.8 95.6 792.2 105.5 792.3 101.6 792.7 79.6 791.9 39.6 792.7 39.5 793.9 39.6 793.8 72.6 793.0 88.6 793.9 128.6 794.6 190.6 794.8 254.6 794.7 263.7 794.2 267.8ZM797.2 157.1 796.8 138.6 796.2 131.9 796.0 126.6 795.5 93.6 795.5 39.6 796.2 39.5 796.7 39.6 796.7 43.9 796.8 39.6 799.0 39.6 798.7 97.6 798.2 109.6 797.7 141.0 797.2 157.1ZM840.2 335.6 825.6 335.6 822.2 298.9 821.9 298.6 821.7 296.4 821.2 306.1 820.7 305.7 820.5 295.6 820.8 286.6 815.6 249.6 813.0 205.6 810.7 176.7 810.3 178.6 809.2 202.9 808.7 257.1 808.2 268.6 807.7 221.1 806.7 230.1 806.3 215.6 806.2 188.5 805.2 216.3 804.9 215.6 804.7 212.6 804.5 177.6 804.2 171.3 803.9 203.6 803.7 208.5 803.2 212.2 802.7 206.8 802.8 260.6 802.6 270.6 802.2 275.3 801.2 207.4 800.7 228.0 800.3 207.6 801.0 187.6 801.1 127.6 801.2 125.2 801.7 137.5 802.2 109.6 802.3 71.6 802.8 39.6 806.4 39.6 806.7 55.0 807.5 49.6 807.5 39.6 845.0 39.6 845.3 69.6 845.7 82.7 846.0 39.6 847.1 39.6 847.1 82.6 847.7 99.1 848.2 86.6 849.0 76.6 849.2 68.3 849.7 72.0 850.7 73.7 850.8 75.6 851.4 99.6 851.5 153.6 851.7 164.1 852.0 151.6 851.9 134.6 852.4 117.6 852.3 97.6 851.7 79.6 851.8 39.6 854.9 39.6 855.2 101.6 855.9 124.6 856.1 152.6 856.0 211.6 855.7 232.8 855.2 233.6 854.8 204.6 854.4 139.6 854.2 133.0 853.7 126.2 853.4 149.6 853.7 169.6 853.6 193.6 852.9 211.6 852.7 214.2 852.2 214.9 851.6 202.6 851.2 178.8 850.7 199.3 850.2 200.9 850.1 198.6 849.4 176.6 849.2 126.6 848.7 128.0 848.2 120.3 848.0 136.6 848.2 157.6 848.2 159.4 848.7 154.8 849.0 170.6 848.8 191.6 848.7 193.0 848.1 170.6 847.7 166.7 847.0 194.6 846.7 202.3 846.2 206.0 845.2 188.5 844.7 201.1 844.4 226.6 842.1 279.6 842.5 303.6 842.2 329.4 841.7 332.8 841.2 315.2 840.2 335.6ZM857.2 286.7 856.8 261.6 856.4 216.6 856.4 162.6 856.9 99.6 856.8 64.6 857.2 54.5 858.3 70.6 858.7 107.8 859.1 70.6 858.6 59.6 858.4 39.6 859.6 39.6 859.7 50.6 860.2 63.7 860.6 39.6 861.8 39.6 862.0 84.6 861.7 100.7 861.2 104.0 860.7 87.5 860.6 97.6 861.2 159.6 861.7 172.6 862.2 175.6 862.5 186.6 862.3 202.6 861.7 216.6 861.9 243.6 861.7 283.7 861.2 265.6 860.7 226.5 860.2 213.0 859.7 212.1 859.6 210.6 859.2 181.5 858.7 194.4 858.2 271.1 857.7 285.2 857.2 286.7ZM873.7 298.6 873.4 277.6 873.4 230.6 873.2 216.3 872.7 213.0 873.0 252.6 872.7 290.4 872.0 267.6 871.7 241.8 871.2 254.4 870.2 235.8 869.7 249.9 869.2 248.9 869.2 249.6 868.7 276.8 868.2 287.5 868.1 286.6 867.7 278.7 867.3 258.6 866.7 192.3 866.2 187.5 865.6 164.6 865.2 116.7 865.0 130.6 864.7 136.4 864.2 136.1 864.0 134.6 863.7 122.1 863.5 127.6 863.8 158.6 864.2 168.3 864.3 178.6 864.2 194.4 863.7 203.7 863.1 172.6 862.9 112.6 863.2 98.7 863.5 57.6 863.7 51.4 864.2 44.6 864.9 57.6 865.5 98.6 866.2 106.6 866.7 124.0 866.8 106.6 866.4 89.6 866.3 76.6 866.7 62.8 867.2 63.0 867.2 63.6 868.2 102.5 868.6 107.6 868.7 160.3 868.8 91.6 869.2 67.1 870.2 150.7 870.7 149.6 870.5 81.6 870.7 68.3 871.2 86.2 871.4 39.6 875.2 39.5 875.8 39.6 875.7 79.5 876.2 79.5 876.7 96.6 876.8 152.6 876.0 222.6 875.2 246.5 874.7 249.6 874.2 249.1 873.7 298.6ZM720.7 82.4 720.5 70.6 720.7 45.1 720.7 82.4ZM722.2 262.7 721.7 232.9 721.4 179.6 721.2 175.1 720.2 199.1 719.6 185.6 719.4 158.6 719.6 141.6 720.2 127.8 720.7 123.2 721.2 127.2 721.6 124.6 721.9 68.6 722.7 45.5 723.2 46.8 723.3 49.6 723.9 73.6 723.9 102.6 723.5 131.6 723.9 208.6 724.3 231.6 724.2 238.8 723.7 243.6 723.2 252.3 722.7 248.4 722.2 262.7ZM625.7 219.3 625.1 198.6 625.0 149.6 625.6 112.6 626.2 95.6 626.2 49.4 626.7 55.8 627.6 114.6 628.4 140.6 628.6 172.6 628.3 195.6 627.7 201.4 627.2 197.1 626.7 197.7 626.2 215.0 625.7 219.3ZM632.2 210.5 631.4 199.6 631.2 175.2 630.7 207.1 630.4 162.6 630.2 157.4 629.7 159.6 629.3 141.6 629.5 85.6 630.1 59.6 630.7 49.3 631.2 56.6 631.4 73.6 631.1 133.6 631.2 136.0 631.4 119.6 631.7 117.7 632.2 122.2 632.3 126.6 633.0 159.6 632.9 187.6 632.2 210.5ZM807.7 58.6 807.7 55.5 807.7 59.1 807.7 58.6ZM746.7 74.6 746.7 56.9 746.1 68.6 746.2 71.3 746.7 74.6ZM587.7 78.6 587.7 66.7 587.7 78.6ZM619.2 76.6 619.2 71.7 619.2 77.3 619.2 76.6ZM609.7 296.6 609.2 290.5 609.1 283.6 608.7 234.6 608.7 178.6 609.1 135.6 608.9 101.6 609.2 79.2 609.7 79.3 610.2 94.0 610.6 133.6 610.5 245.6 609.7 296.6ZM579.7 81.6 579.7 80.9 579.7 81.6ZM759.7 88.6 759.7 81.4 759.7 89.3 759.7 88.6ZM593.2 127.4 592.6 115.6 592.4 99.6 592.7 83.6 593.2 82.0 593.8 93.6 594.0 110.6 593.7 126.6 593.2 127.4ZM742.7 91.6 742.7 88.4 742.7 91.9 742.7 91.6ZM807.7 124.6 807.9 108.6 807.9 97.6 807.7 94.0 807.3 99.6 806.9 101.6 806.8 104.6 807.0 119.6 807.7 125.4 807.7 124.6ZM767.2 134.2 767.2 102.4 767.2 134.2ZM637.2 188.7 636.8 175.6 636.6 119.6 636.7 107.7 637.2 117.5 637.7 104.2 638.0 120.6 637.9 145.6 637.2 188.7ZM728.2 109.6 728.2 108.2 728.2 109.6ZM727.7 175.6 728.0 122.6 728.0 112.6 727.7 110.8 727.4 112.6 727.4 122.6 727.7 175.6ZM581.2 255.1 580.8 235.6 580.7 203.6 581.0 139.6 581.7 114.9 582.2 120.5 582.3 127.6 582.6 182.6 582.7 185.8 583.2 182.2 583.3 183.6 583.7 196.6 583.2 213.6 582.7 215.6 582.3 220.6 581.7 251.0 581.2 255.1ZM760.7 129.6 760.7 116.4 760.7 130.2 760.7 129.6ZM776.7 183.6 776.8 158.6 776.9 156.6 777.2 156.1 777.4 145.6 777.2 118.9 776.8 127.6 776.7 183.6ZM770.8 138.6 770.7 121.6 770.7 139.6 770.8 138.6ZM620.7 164.6 620.7 124.2 620.2 131.7 620.1 142.6 620.2 149.1 620.6 154.6 620.7 165.4 620.7 164.6ZM700.7 335.6 700.0 335.6 700.1 291.6 699.4 267.6 698.8 221.6 698.6 159.6 698.8 138.6 699.2 123.8 699.7 126.0 700.2 142.6 701.0 198.6 701.2 254.6 701.0 280.6 700.5 296.6 700.8 311.6 700.7 335.6ZM744.2 126.6 744.2 123.8 744.2 126.6ZM705.2 186.6 704.7 185.5 704.5 181.6 703.9 159.6 704.0 135.6 704.2 130.6 704.7 127.2 705.3 136.6 705.7 155.6 705.6 174.6 705.2 186.6ZM596.2 176.5 595.7 170.9 595.5 158.6 595.5 139.6 595.7 128.3 596.2 149.7 596.2 176.5ZM690.7 219.3 690.2 169.6 690.3 151.6 690.7 138.2 690.7 219.3ZM775.2 164.6 775.2 137.8 774.9 146.6 775.2 164.6ZM771.2 142.6 771.2 140.9 771.0 141.6 771.2 142.6ZM761.2 149.6 761.2 143.4 761.2 149.6ZM593.7 154.4 593.7 145.1 593.7 154.4ZM741.7 165.6 741.9 153.6 741.7 147.1 741.7 166.0 741.7 165.6ZM685.7 170.2 685.7 149.6 685.5 148.6 685.7 148.1 685.7 170.2ZM615.7 161.6 615.7 161.9 615.7 161.6ZM870.2 178.6 870.4 172.6 870.2 162.7 870.2 179.1 870.2 178.6ZM789.2 187.6 789.4 183.6 789.2 169.9 789.0 183.6 789.2 187.6ZM797.2 242.2 796.5 229.6 796.0 201.6 796.1 177.6 796.2 174.8 796.7 172.5 797.3 187.6 797.6 208.6 797.6 230.6 797.2 242.2ZM712.7 199.6 712.5 196.6 712.7 176.8 713.0 178.6 713.1 181.6 712.7 199.6ZM786.2 198.6 786.2 176.7 785.9 178.6 786.2 199.5 786.2 198.6ZM686.7 188.7 686.1 183.6 686.7 177.8 687.2 179.8 687.3 182.6 687.2 186.1 686.7 188.7ZM614.2 185.6 614.2 180.7 614.2 186.4 614.2 185.6ZM870.7 188.6 870.7 183.3 870.7 188.6ZM715.7 244.4 715.2 242.4 715.1 239.6 714.6 210.6 714.7 185.6 715.2 185.2 715.9 212.6 715.7 244.4ZM597.2 214.9 596.8 200.6 597.2 187.6 597.4 201.6 597.2 214.9ZM799.2 209.8 798.9 204.6 799.2 198.8 799.7 199.4 799.9 200.6 800.0 204.6 799.8 208.6 799.2 209.8ZM641.2 235.0 640.7 227.6 640.5 213.6 640.7 200.3 641.2 199.7 641.7 220.6 641.2 235.0ZM712.7 231.6 712.2 216.6 712.2 200.6 712.8 209.6 712.7 231.6ZM678.2 229.6 678.2 202.2 678.2 229.6ZM577.7 244.3 577.5 222.6 577.7 203.1 578.0 227.6 577.7 244.3ZM710.7 249.6 710.4 238.6 710.4 222.6 710.7 213.0 711.2 210.6 711.4 222.6 711.4 237.6 711.2 247.3 710.7 249.6ZM847.2 218.6 847.2 213.3 847.2 218.6ZM638.2 275.6 637.7 271.6 637.4 251.6 637.4 229.6 637.7 216.5 638.2 231.5 638.7 229.9 639.2 237.6 639.3 243.6 639.2 253.8 638.7 244.3 638.5 254.6 638.7 259.9 639.2 257.9 639.3 259.6 639.4 272.6 639.2 275.1 638.7 269.1 638.2 275.6ZM730.7 225.6 730.7 216.3 730.7 225.6ZM810.7 239.1 810.5 228.6 810.7 217.4 810.9 228.6 810.7 239.1ZM596.7 264.4 596.2 258.4 596.0 250.6 596.2 219.5 596.7 225.1 596.8 228.6 596.7 264.4ZM684.2 244.8 684.0 228.6 684.2 220.6 684.2 244.8ZM592.2 296.8 591.7 289.6 591.5 281.6 591.8 269.6 591.5 243.6 591.7 221.9 591.9 260.6 592.4 267.6 592.6 280.6 592.2 296.8ZM846.2 232.8 846.0 227.6 846.2 221.9 846.7 221.9 847.0 222.6 847.0 224.6 846.8 230.6 846.2 232.8ZM798.7 285.3 798.3 254.6 798.7 225.5 799.1 256.6 798.7 285.3ZM583.7 287.1 583.7 225.8 584.2 231.1 584.9 257.6 584.7 267.6 583.7 287.1ZM675.7 290.8 675.5 259.6 675.7 228.8 676.0 259.6 675.7 290.8ZM728.7 266.0 728.2 251.6 727.7 249.9 727.5 245.6 727.4 237.6 727.7 230.1 728.2 232.3 728.7 238.1 729.2 231.7 729.7 238.6 729.5 259.6 729.2 265.3 728.7 266.0ZM594.7 260.3 594.4 257.6 594.7 230.9 595.0 240.6 594.7 260.3ZM601.2 260.4 601.0 242.6 601.2 237.3 601.7 236.0 601.9 242.6 601.9 253.6 601.7 258.5 601.2 260.4ZM733.2 262.8 732.9 248.6 733.2 238.4 733.5 252.6 733.2 262.8ZM632.2 243.8 632.2 240.1 632.2 243.8ZM695.7 254.4 695.2 250.1 695.2 246.6 695.2 243.5 695.7 240.3 695.9 247.6 695.7 254.4ZM788.2 314.7 787.8 302.6 787.3 268.6 787.6 244.6 787.7 242.6 788.2 241.4 788.8 293.6 788.7 307.0 788.2 314.7ZM719.2 282.7 718.8 272.6 718.7 261.6 718.8 251.6 719.2 243.4 719.7 249.0 719.9 264.6 719.7 279.9 719.2 282.7ZM750.7 263.6 750.9 249.6 750.7 244.0 750.7 263.6ZM803.7 277.7 803.4 259.6 803.7 245.9 804.1 265.6 803.7 277.7ZM766.2 307.9 765.7 273.6 765.9 250.6 766.2 247.3 766.7 281.6 766.2 307.9ZM757.7 292.6 757.2 285.3 757.0 265.6 757.0 250.6 757.2 248.3 757.7 248.3 758.1 273.6 757.7 292.6ZM626.7 291.4 626.3 277.6 626.7 253.9 626.9 271.6 626.7 291.4ZM604.2 335.6 603.7 335.4 603.6 333.6 603.2 299.6 603.3 290.6 603.9 283.6 603.7 261.6 604.2 255.1 604.6 277.6 604.5 285.6 604.1 288.6 604.0 292.6 604.4 314.6 604.2 335.6ZM851.2 297.3 850.7 292.2 850.4 280.6 850.4 266.6 850.7 257.4 851.7 267.5 852.2 265.5 852.6 275.6 852.4 285.6 852.2 288.1 851.7 282.6 851.2 297.3ZM613.7 284.0 613.2 277.6 613.2 271.6 613.2 264.6 613.7 258.2 614.0 259.6 614.2 271.6 613.7 284.0ZM767.2 271.7 767.0 270.6 766.9 266.6 767.2 258.4 767.7 265.6 767.2 271.7ZM807.2 295.2 806.8 276.6 807.2 260.4 807.8 277.6 807.7 287.6 807.2 295.2ZM747.7 291.7 747.0 287.6 746.9 282.6 747.4 273.6 747.7 261.5 748.0 279.6 747.7 291.7ZM616.2 299.0 615.9 280.6 616.2 262.4 616.4 280.6 616.2 299.0ZM797.7 300.6 797.2 299.0 797.1 290.6 797.0 274.6 797.2 263.0 797.7 281.6 797.7 300.6ZM809.7 276.8 809.7 266.4 810.0 273.6 809.7 276.8ZM611.2 291.2 611.0 275.6 611.2 270.3 611.7 268.4 611.8 282.6 611.7 286.3 611.2 291.2ZM876.2 299.3 875.7 299.0 875.5 290.6 875.4 279.6 875.7 270.5 876.2 273.4 876.4 279.6 876.2 299.3ZM602.2 311.3 601.8 305.6 601.7 285.6 601.8 277.6 602.2 271.4 602.6 295.6 602.2 311.3ZM727.7 287.1 727.2 285.7 727.1 279.6 727.2 272.5 727.7 270.6 727.9 278.6 727.7 287.1ZM576.2 298.9 575.6 284.6 575.7 276.6 576.2 271.9 576.7 280.6 576.8 288.6 576.7 294.7 576.2 298.9ZM782.2 335.6 781.8 335.6 781.8 333.6 781.7 295.6 781.8 283.6 782.2 275.2 782.7 312.6 782.4 335.6 782.2 335.6ZM574.7 328.1 574.2 294.6 574.3 283.6 574.7 275.6 575.2 308.6 575.1 319.6 574.7 328.1ZM621.2 327.0 621.0 304.6 621.2 279.3 621.5 309.6 621.2 327.0ZM742.7 335.6 742.4 335.6 742.4 328.6 742.7 293.6 743.2 279.6 743.5 294.6 743.5 310.6 743.1 335.6 742.7 335.6ZM847.7 335.6 847.1 335.6 847.1 334.6 847.2 318.8 847.8 303.6 847.5 293.6 847.7 280.6 848.4 298.6 848.5 310.6 848.4 319.6 847.9 335.6 847.7 335.6ZM763.7 328.7 763.2 327.0 763.1 313.6 763.2 297.1 763.7 281.4 764.0 296.6 763.7 328.7ZM865.2 328.7 864.7 329.3 864.4 314.6 864.5 298.6 864.7 291.7 865.2 292.7 866.2 281.7 866.7 290.6 866.6 302.6 866.2 313.5 865.7 313.6 865.2 328.7ZM572.7 316.2 572.4 301.6 572.7 283.6 573.0 298.6 572.7 316.2ZM587.2 335.6 587.0 335.6 587.0 328.6 587.7 283.7 588.3 293.6 588.3 309.6 587.7 335.4 587.2 335.6ZM801.7 335.6 801.4 311.6 801.7 283.7 802.1 311.6 801.7 335.6ZM750.7 320.5 750.2 318.3 750.1 315.6 750.2 284.7 750.8 295.6 750.7 320.5ZM780.7 302.0 780.2 301.7 780.0 296.6 779.9 290.6 780.2 285.1 780.7 287.2 780.9 290.6 780.7 302.0ZM849.2 323.5 848.9 308.6 849.2 286.5 849.4 303.6 849.2 323.5ZM768.2 301.2 768.0 293.6 768.2 287.5 768.5 295.6 768.2 301.2ZM811.7 335.6 811.5 335.6 811.4 330.6 811.2 316.6 811.7 291.5 812.2 302.3 812.3 314.6 812.2 328.6 811.9 335.6 811.7 335.6ZM734.7 328.2 734.5 311.6 734.7 293.3 734.7 328.2ZM853.2 335.6 853.0 335.6 852.8 329.6 852.6 317.6 852.7 302.2 853.2 296.3 853.7 308.6 853.8 320.6 853.7 331.6 853.5 335.6 853.2 335.6ZM718.2 335.6 717.8 335.6 717.7 330.6 717.4 306.6 717.7 297.5 718.2 306.0 718.4 315.6 718.5 335.6 718.2 335.6ZM793.2 302.5 793.2 297.8 793.2 302.5ZM716.7 314.6 716.7 300.8 717.0 306.6 716.7 314.6ZM863.2 335.6 862.5 335.6 862.5 332.6 862.6 318.6 863.2 303.8 863.5 335.6 863.2 335.6ZM791.7 335.6 791.5 335.6 791.4 334.6 791.4 331.6 791.7 326.7 792.1 324.6 792.2 309.3 792.5 320.6 792.0 333.6 791.7 335.6ZM817.2 327.1 816.7 325.5 816.7 322.6 817.2 311.9 817.2 327.1ZM578.2 335.6 577.9 335.6 577.7 334.0 577.4 326.6 577.4 319.6 577.7 314.6 578.2 317.1 578.2 335.6ZM693.2 335.6 692.7 335.6 692.7 314.5 693.2 315.1 693.2 316.6 693.2 335.6ZM722.7 322.3 722.7 313.7 722.7 322.3ZM740.7 335.6 740.5 335.6 740.7 314.5 740.9 335.6 740.7 335.6ZM576.2 334.1 576.2 317.5 576.6 328.6 576.5 332.6 576.2 334.1ZM636.7 335.6 636.7 317.5 637.0 330.6 636.9 335.6 636.7 335.6ZM589.2 328.9 588.6 326.6 588.4 323.6 588.5 321.6 589.2 318.5 589.6 320.6 589.7 323.6 589.2 328.9ZM622.7 325.2 622.7 321.5 622.7 325.2ZM750.2 335.6 749.4 335.6 749.4 327.6 749.7 320.9 750.3 329.6 750.2 335.6ZM593.2 335.6 592.6 335.6 592.6 330.6 592.7 325.8 593.2 321.6 593.4 332.6 593.4 335.6 593.2 335.6ZM772.2 334.4 772.2 323.4 772.2 334.4Z"/><path fill="#5098f0" d="M574.7 188.8 574.2 175.5 573.1 123.6 572.8 93.6 573.0 74.6 572.7 71.0 572.2 119.9 571.7 87.8 571.5 50.6 571.2 39.6 573.1 39.6 573.2 55.2 573.7 45.1 574.2 61.7 574.8 101.6 575.1 143.6 575.1 173.6 574.7 188.8ZM579.7 194.2 579.3 188.6 579.2 174.6 579.4 94.6 579.7 93.0 579.8 81.6 579.7 63.1 579.4 91.6 578.7 105.5 578.2 84.6 578.5 39.6 579.2 39.6 579.9 39.6 579.9 55.6 580.2 59.6 580.7 53.8 580.9 73.6 580.4 154.6 579.7 194.2ZM582.7 67.5 582.2 54.0 582.1 39.6 582.8 39.6 582.7 67.5ZM585.2 189.3 584.7 189.0 584.5 178.6 583.9 123.6 584.0 42.6 584.1 39.6 584.7 39.5 585.4 39.6 584.9 93.6 585.5 152.6 585.5 174.6 585.2 189.3ZM588.2 78.2 587.8 39.6 588.2 39.6 588.7 39.6 588.7 51.6 588.6 67.6 588.2 78.2ZM598.2 135.4 597.7 135.2 597.4 133.6 597.1 128.6 597.4 122.6 597.7 120.8 598.1 120.6 597.5 66.6 597.4 39.6 597.7 39.6 598.3 39.6 598.4 53.6 598.5 96.6 598.2 120.6 598.7 123.2 598.9 127.6 598.7 132.8 598.2 135.4ZM603.2 233.0 602.8 221.6 602.7 196.6 602.2 172.1 601.7 177.6 601.0 163.6 600.4 158.6 600.1 152.6 600.9 135.6 600.9 86.6 601.2 46.2 601.7 39.6 602.2 64.8 602.7 67.4 602.8 39.6 606.2 39.6 606.6 39.6 606.6 62.6 606.2 109.9 605.7 104.8 605.5 99.6 605.2 58.7 604.8 79.6 604.7 81.2 604.2 75.3 603.1 100.6 603.3 134.6 603.6 136.6 604.5 138.6 605.2 142.0 605.7 146.6 605.9 151.6 605.7 156.6 605.2 162.0 604.4 165.6 603.3 167.6 603.2 168.6 603.0 185.6 603.5 194.6 603.7 208.6 603.2 233.0ZM614.7 218.0 614.5 216.6 614.4 212.6 614.3 165.6 614.2 163.0 613.7 170.1 613.2 167.4 612.9 147.6 613.8 39.6 614.7 39.6 615.5 39.6 615.5 41.6 615.0 133.6 614.5 148.6 614.6 155.6 615.0 160.6 615.0 181.6 615.2 187.6 614.7 218.0ZM623.2 278.7 622.7 273.6 622.3 245.6 622.3 191.6 621.5 173.6 620.7 103.1 620.2 97.7 619.9 165.6 619.7 171.7 619.2 172.9 618.7 154.2 618.2 154.1 617.9 194.6 617.2 243.8 616.8 205.6 616.7 145.6 617.0 98.6 617.7 39.6 620.0 39.6 620.0 56.6 619.1 65.6 618.9 71.6 618.9 85.6 619.2 90.7 619.9 72.6 620.5 39.6 620.9 39.6 621.2 44.7 621.9 76.6 622.7 147.9 623.2 152.0 623.8 39.6 625.0 39.6 624.7 120.6 624.2 157.2 623.6 161.6 623.5 169.6 623.7 231.6 623.2 278.7ZM663.2 335.6 651.0 335.6 650.2 323.9 648.5 307.6 647.2 286.8 644.2 261.9 643.5 253.6 643.2 249.6 642.7 150.6 642.2 138.0 640.3 104.6 640.0 39.6 691.9 39.6 692.2 51.5 692.7 45.4 693.2 46.6 693.5 53.6 693.2 104.0 692.7 119.4 692.4 102.6 692.2 100.6 691.7 105.4 691.2 93.5 690.7 55.3 690.3 56.6 690.2 58.0 690.1 74.6 688.6 108.6 689.0 119.6 689.2 132.1 689.1 148.6 688.7 162.2 688.2 161.6 688.1 158.6 688.0 128.6 687.7 124.5 684.6 150.6 684.3 181.6 683.7 192.2 683.5 164.6 683.2 160.1 681.9 175.6 681.7 192.5 681.2 179.3 678.7 187.9 677.7 190.2 676.7 191.6 675.7 189.6 675.2 187.7 673.7 178.1 673.5 182.6 673.3 243.6 673.2 250.8 672.7 256.1 672.1 221.6 672.1 170.6 670.9 160.6 670.2 156.6 670.0 188.6 669.4 206.6 669.6 250.6 668.7 263.0 667.2 275.6 666.2 286.6 665.6 301.6 663.7 325.2 663.2 335.6ZM714.7 81.6 714.2 80.3 714.2 78.6 713.8 39.6 715.4 39.6 715.2 77.4 714.7 81.6ZM717.7 171.1 717.2 169.4 716.7 150.6 716.3 87.6 716.4 79.6 716.7 74.8 717.2 77.4 717.3 75.6 717.6 39.6 718.2 39.6 718.2 80.4 717.9 87.6 717.4 148.6 717.7 171.1ZM728.7 216.0 728.1 181.6 728.4 108.6 728.2 96.1 727.7 95.6 727.6 92.6 727.7 52.9 728.1 39.6 729.8 39.6 729.7 117.9 730.2 88.8 730.7 114.4 730.8 113.6 730.9 75.6 731.2 52.3 731.6 39.6 732.4 39.6 732.7 94.9 732.2 97.3 731.7 120.4 731.2 115.1 730.9 116.6 730.8 148.6 730.9 161.6 731.2 164.5 731.7 156.8 732.1 162.6 732.2 179.6 731.8 196.6 731.7 197.5 731.2 197.9 730.7 169.7 730.2 187.1 729.6 143.6 729.2 133.7 729.0 172.6 729.3 199.6 729.2 207.6 728.7 216.0ZM736.2 250.0 735.7 238.5 735.3 197.6 734.7 182.6 734.8 131.6 734.2 114.2 733.7 129.5 733.5 114.6 733.2 71.6 733.3 45.6 733.4 39.6 734.2 39.5 735.0 39.6 735.0 51.6 734.7 60.6 735.1 65.6 735.1 89.6 735.2 91.9 735.7 89.5 736.0 109.6 736.1 151.6 735.9 227.6 736.3 237.6 736.2 250.0ZM741.2 223.3 740.2 157.6 739.7 190.5 739.3 178.6 738.8 173.6 738.8 114.6 738.9 108.6 739.2 105.9 739.5 106.6 739.6 109.6 739.7 145.7 739.9 136.6 739.7 74.6 740.1 39.6 740.4 39.6 740.7 47.5 741.2 42.8 741.3 39.6 742.2 39.6 742.6 39.6 742.6 80.6 741.9 130.6 741.2 146.6 741.6 202.6 741.5 215.6 741.2 223.3ZM744.7 120.0 743.9 109.6 743.7 91.1 743.3 94.6 743.2 102.6 743.3 42.6 743.4 39.6 743.7 39.6 744.6 39.6 745.0 57.6 745.1 99.6 744.7 120.0ZM745.7 61.8 745.7 39.6 745.7 61.8ZM755.2 287.4 754.6 265.6 754.2 208.7 753.7 254.7 753.2 232.4 753.0 194.6 753.2 157.6 752.7 130.3 752.6 129.6 752.2 129.0 751.8 149.6 751.4 227.6 751.2 234.4 750.7 227.1 750.2 250.9 749.7 240.7 750.0 157.6 750.5 106.6 750.9 78.6 752.0 39.6 752.3 39.6 753.2 68.0 753.7 71.2 754.0 39.6 756.9 39.6 757.0 107.6 756.7 144.6 756.2 163.2 756.1 241.6 755.7 277.6 755.2 287.4ZM759.2 87.5 759.0 39.6 760.4 39.6 760.2 52.8 759.7 40.3 759.6 42.6 759.2 87.5ZM760.2 245.2 759.7 232.5 759.2 239.8 758.7 241.8 758.6 236.6 758.7 230.5 759.3 227.6 759.5 223.6 760.0 178.6 760.7 161.4 761.1 168.6 761.2 183.2 761.2 181.6 761.3 135.6 760.9 113.6 760.0 92.6 760.0 61.6 760.5 53.6 760.7 53.2 761.2 71.4 761.4 39.6 762.3 39.6 762.7 65.7 763.2 41.0 763.3 39.6 764.2 39.6 765.9 176.6 765.9 197.6 765.3 235.6 765.2 239.6 764.7 235.1 764.2 218.7 763.7 237.7 763.4 229.6 763.3 205.6 763.5 163.6 763.2 125.7 762.7 120.5 762.1 160.6 762.3 202.6 762.2 242.3 761.6 232.6 761.2 215.0 761.1 225.6 760.2 245.2ZM771.7 266.3 771.3 254.6 771.2 238.8 770.7 238.1 770.6 231.6 771.0 203.6 771.4 141.6 770.7 106.0 770.3 121.6 770.6 169.6 770.2 189.8 769.7 172.2 769.2 126.8 768.7 133.0 768.2 124.6 768.3 112.6 769.0 93.6 769.2 74.1 770.2 86.7 770.7 49.8 771.2 49.5 771.7 51.9 771.9 39.6 773.2 39.6 773.7 84.3 774.2 82.5 774.7 49.7 775.2 42.4 775.7 71.2 776.2 39.6 777.7 39.6 778.0 39.6 778.0 72.6 778.7 95.6 779.3 145.6 779.4 195.6 779.2 233.7 778.7 235.0 778.2 249.2 777.7 208.0 777.4 240.6 776.7 265.2 776.1 253.6 775.5 234.6 775.4 194.6 775.7 175.6 775.7 174.8 776.2 174.2 776.7 203.8 777.1 172.6 777.7 152.6 777.5 112.6 777.2 106.9 776.5 119.6 776.2 159.4 775.7 149.7 775.2 118.9 774.2 159.8 773.9 148.6 773.7 103.0 772.7 181.3 772.3 237.6 771.7 266.3ZM781.2 97.2 781.0 52.6 781.0 39.6 781.2 39.6 781.2 97.2ZM793.2 77.9 792.7 70.6 792.3 52.6 792.1 39.6 792.7 39.5 793.7 39.6 793.7 63.6 793.2 77.9ZM797.2 125.8 796.7 97.9 796.6 116.6 796.2 121.6 795.9 110.6 795.6 75.6 795.7 39.6 796.5 39.6 796.7 64.6 797.0 39.6 798.7 39.6 798.5 74.6 797.2 125.8ZM806.7 221.1 806.2 178.1 805.7 179.6 805.2 190.6 804.7 128.5 804.4 131.6 803.2 198.8 802.5 184.6 802.1 144.6 803.1 39.6 805.6 39.6 805.7 60.9 806.2 45.2 806.7 69.5 807.2 59.6 807.6 69.6 807.4 87.6 807.2 91.4 806.7 79.3 806.5 93.6 806.5 120.6 807.5 151.6 807.7 169.6 807.5 207.6 807.3 214.6 806.7 221.1ZM839.7 335.6 825.9 335.6 825.2 326.0 823.7 312.3 821.2 285.3 816.2 249.6 813.0 196.6 810.2 162.2 808.9 190.6 808.6 229.6 808.2 248.5 807.8 175.6 808.2 121.6 808.6 137.6 808.7 170.5 808.8 126.6 808.3 39.6 844.3 39.6 844.6 70.6 845.7 110.3 846.2 50.7 846.4 39.6 846.9 39.6 846.9 93.6 847.5 108.6 847.8 125.6 847.3 175.6 846.7 193.0 846.2 196.0 845.2 173.5 844.2 196.6 843.8 223.6 843.7 227.0 843.2 231.1 842.8 250.6 841.4 283.6 841.6 305.6 841.2 306.4 840.3 325.6 840.1 335.6 839.7 335.6ZM855.2 218.8 854.8 182.6 854.8 126.6 854.2 110.7 853.7 105.6 853.2 128.7 852.8 114.6 852.5 83.6 852.2 79.0 852.0 70.6 852.2 39.6 854.6 39.6 855.0 108.6 855.7 137.5 855.9 162.6 855.7 212.6 855.2 218.8ZM872.2 262.1 871.7 231.1 871.2 230.7 871.0 220.6 871.2 187.6 870.8 167.6 870.7 95.3 870.9 97.6 871.2 98.1 871.7 96.5 872.0 83.6 871.4 66.6 871.6 39.6 875.2 39.5 875.6 39.6 875.6 87.6 875.7 92.5 876.2 95.6 876.5 116.6 876.6 151.6 876.3 186.6 875.7 220.2 875.2 233.7 874.7 234.9 873.7 226.5 873.2 194.6 872.7 200.2 872.6 255.6 872.5 260.6 872.2 262.1ZM576.7 119.3 576.4 107.6 576.4 85.6 576.6 56.6 577.2 41.1 577.7 72.6 576.7 119.3ZM738.2 203.7 737.1 126.6 737.3 79.6 738.2 42.2 738.6 80.6 738.7 179.6 738.6 195.6 738.2 203.7ZM861.2 87.1 860.9 62.6 861.2 43.0 861.7 68.6 861.2 87.1ZM852.7 69.6 852.7 47.3 852.7 70.0 852.7 69.6ZM872.7 173.6 872.9 162.6 872.7 50.1 872.3 75.6 872.5 128.6 872.1 161.6 872.2 166.3 872.7 173.6ZM748.2 232.9 747.7 212.5 747.2 222.9 746.3 196.6 746.2 104.6 746.3 97.6 746.9 85.6 747.2 53.9 747.7 56.3 748.3 101.6 748.7 112.2 749.2 75.6 749.7 56.8 749.9 69.6 749.8 105.6 749.3 145.6 748.8 163.6 748.7 217.9 748.2 232.9ZM864.2 125.2 863.6 103.6 863.6 90.6 863.7 67.4 864.2 55.5 864.8 67.6 865.1 95.6 864.8 122.6 864.7 124.3 864.2 125.2ZM634.2 127.6 634.1 76.6 634.3 61.6 634.7 57.4 635.0 72.6 635.0 92.6 634.7 111.6 634.3 117.6 634.2 127.6ZM722.2 240.5 721.8 208.6 721.8 166.6 722.2 110.6 722.1 81.6 722.7 57.5 723.2 59.5 723.6 82.6 723.6 107.6 723.1 127.6 723.5 172.6 723.4 213.6 723.7 226.6 723.7 228.8 723.4 224.6 722.7 220.9 722.2 240.5ZM857.7 266.6 857.2 266.1 857.2 263.6 856.7 214.6 856.8 146.6 857.3 99.6 856.9 75.6 857.2 61.6 857.9 75.6 858.2 91.0 858.7 138.1 859.0 131.6 859.7 72.2 859.7 72.6 860.2 89.6 861.2 173.6 861.9 184.6 862.1 190.6 861.5 214.6 861.5 240.6 861.2 250.2 860.8 213.6 860.2 189.5 859.7 191.0 859.7 189.6 859.2 140.7 858.7 156.9 858.3 226.6 857.7 266.6ZM630.2 145.2 629.7 143.6 629.6 140.6 629.5 108.6 630.1 73.6 630.7 62.6 631.1 77.6 631.1 100.6 630.7 128.6 630.2 145.2ZM587.2 134.2 586.7 129.6 586.3 108.6 586.2 72.6 586.3 68.6 586.7 66.6 587.2 68.3 587.3 70.6 587.8 97.6 587.6 120.6 587.2 134.2ZM625.7 200.7 625.4 179.6 625.4 149.6 625.7 128.7 626.3 105.6 626.7 71.1 627.5 120.6 628.3 147.6 628.4 173.6 628.2 186.3 627.7 194.1 627.0 187.6 626.7 178.0 626.2 198.8 625.7 200.7ZM590.2 254.5 589.7 236.5 589.2 253.9 588.9 240.6 588.7 119.6 588.8 94.6 589.2 76.0 589.7 82.0 589.9 89.6 590.4 140.6 591.0 155.6 591.2 168.6 590.9 227.6 590.2 254.5ZM777.7 89.6 777.9 80.6 777.7 77.0 777.7 90.3 777.7 89.6ZM866.7 84.7 866.7 77.3 866.7 84.7ZM786.7 210.8 786.5 174.6 785.7 154.7 785.6 138.6 785.7 129.6 786.2 129.8 786.5 131.6 786.7 143.4 786.9 125.6 787.4 119.6 787.0 108.6 787.2 80.9 787.4 110.6 787.7 112.8 788.2 107.4 788.7 116.7 789.0 155.6 788.7 178.1 788.2 183.8 787.7 182.4 787.2 209.3 786.7 210.8ZM850.2 189.3 849.6 163.6 849.5 125.6 849.5 98.6 850.2 84.3 850.7 85.6 850.9 94.6 851.3 137.6 850.9 179.6 850.7 187.4 850.2 189.3ZM593.2 118.0 592.8 101.6 592.9 95.6 593.2 91.3 593.7 108.6 593.2 118.0ZM868.2 267.6 867.7 259.1 867.5 245.6 866.8 174.6 866.7 169.7 866.2 171.7 865.7 138.6 865.7 125.9 866.2 122.3 866.7 146.6 867.1 97.6 867.2 94.4 867.7 90.9 868.3 127.6 868.7 193.0 869.1 174.6 869.0 123.6 869.2 91.6 869.7 123.8 869.9 179.6 870.2 203.6 869.9 234.6 869.7 239.0 869.2 238.0 868.8 240.6 868.2 267.6ZM609.7 279.5 609.2 271.0 609.1 264.6 608.9 210.6 609.0 163.6 609.5 138.6 609.2 107.6 609.7 95.2 610.3 120.6 610.1 151.6 610.4 196.6 610.2 247.6 609.7 279.5ZM794.2 249.9 793.7 234.5 793.1 199.6 792.7 151.2 791.9 205.6 791.2 228.7 790.7 236.3 790.2 226.6 789.7 193.6 790.6 143.6 790.7 112.6 791.2 99.9 791.7 102.9 792.2 115.7 792.7 102.5 793.2 107.0 793.3 110.6 793.9 142.6 794.4 192.6 794.5 230.6 794.2 249.9ZM874.2 136.6 874.2 104.4 874.2 137.5 874.2 136.6ZM781.2 138.1 781.0 121.6 781.2 106.7 781.6 124.6 781.2 138.1ZM717.3 111.6 717.2 109.2 717.2 112.0 717.3 111.6ZM726.7 185.8 726.7 114.5 727.1 157.6 726.7 185.8ZM618.7 139.6 618.7 127.4 618.7 139.9 618.7 139.6ZM632.2 201.5 631.6 191.6 631.3 170.6 631.3 144.6 631.7 126.9 632.2 131.6 632.6 157.6 632.6 184.6 632.2 201.5ZM637.2 170.0 637.2 138.6 637.7 129.2 637.7 143.4 637.2 170.0ZM720.2 188.4 719.7 175.8 719.6 156.6 719.7 152.3 720.2 149.3 720.3 137.6 720.7 130.4 721.2 134.7 721.4 139.6 721.5 160.6 721.2 167.6 720.7 165.6 720.6 166.6 720.2 188.4ZM581.2 236.4 580.9 211.6 581.0 178.6 581.2 152.1 581.7 131.0 582.2 145.4 582.3 194.6 581.7 235.0 581.2 236.4ZM758.7 157.0 758.7 133.2 759.3 151.6 759.2 156.0 758.7 157.0ZM852.7 208.2 852.2 208.4 852.0 204.6 851.7 183.6 851.9 163.6 852.5 149.6 852.3 139.6 852.7 133.0 853.1 136.6 852.9 149.6 853.4 157.6 853.6 173.6 853.3 193.6 852.7 208.2ZM704.7 176.8 704.2 152.6 704.3 142.6 704.7 135.8 705.2 143.7 705.4 161.6 705.2 176.6 704.7 176.8ZM743.7 221.3 743.2 206.0 743.0 176.6 743.2 147.9 743.7 138.3 744.5 146.6 744.7 152.6 744.2 161.8 744.2 197.3 743.7 221.3ZM700.2 277.8 699.4 251.6 698.9 199.6 699.0 152.6 699.2 143.9 699.7 142.1 700.4 170.6 700.9 220.6 700.8 265.6 700.7 270.6 700.2 277.8ZM669.3 193.6 669.4 174.6 669.2 150.6 668.7 146.9 668.5 150.6 669.2 194.4 669.3 193.6ZM605.7 218.0 605.3 199.6 605.4 179.6 605.7 168.8 606.2 166.6 606.7 154.6 607.2 155.9 607.4 162.6 607.6 190.6 607.2 202.3 606.7 208.0 606.2 200.4 605.7 218.0ZM781.2 197.1 781.0 179.6 781.2 156.3 781.5 162.6 781.6 170.6 781.2 197.1ZM774.7 239.4 774.2 224.0 774.1 206.6 774.2 188.6 774.7 169.1 775.0 203.6 774.7 239.4ZM802.2 235.4 801.6 213.6 801.7 169.2 802.2 210.0 802.2 235.4ZM782.7 215.8 782.4 206.6 782.4 192.6 782.7 178.2 783.2 173.6 783.5 183.6 783.5 197.6 783.2 210.6 782.7 215.8ZM797.2 234.4 796.6 226.6 796.2 204.6 796.2 187.6 796.7 179.5 797.2 192.6 797.5 206.6 797.5 223.6 797.2 234.4ZM686.7 185.4 686.7 181.2 686.7 185.4ZM586.2 219.8 585.9 203.6 586.2 182.6 586.6 188.6 586.7 196.6 586.2 219.8ZM612.7 241.0 612.2 228.6 612.0 206.6 612.2 185.7 612.7 183.1 613.2 201.6 613.3 216.6 613.2 232.0 612.7 241.0ZM715.2 235.2 714.7 204.6 714.9 196.6 715.2 192.4 715.7 224.6 715.6 231.6 715.2 235.2ZM752.2 232.1 751.9 203.6 752.2 192.6 752.2 232.1ZM583.2 202.2 583.0 199.6 583.2 194.2 583.2 202.2ZM641.2 221.9 641.2 212.8 641.2 221.9ZM637.7 252.8 637.7 235.3 637.7 252.8ZM738.7 254.5 738.7 235.0 738.9 244.6 738.7 254.5ZM733.2 254.5 733.2 246.6 733.2 254.5ZM729.2 249.0 729.2 247.9 729.2 249.0ZM873.7 281.1 873.7 249.8 873.7 281.1ZM675.7 268.2 675.7 251.3 675.7 268.2ZM584.2 261.5 584.2 252.2 584.2 261.5ZM719.2 270.8 719.2 255.3 719.4 263.6 719.2 270.8ZM787.7 274.2 787.7 258.1 788.0 264.6 787.7 274.2ZM766.2 284.7 766.2 270.4 766.2 284.7ZM737.7 286.3 737.7 276.1 737.9 283.6 737.7 286.3ZM592.2 281.4 592.2 279.2 592.2 281.4ZM576.2 290.9 576.2 279.9 576.2 290.9ZM788.2 302.7 788.0 291.6 788.2 280.6 788.4 292.6 788.2 302.7ZM782.2 316.6 782.2 291.5 782.2 316.6ZM603.7 322.1 603.7 299.6 603.9 313.6 603.7 322.1ZM853.2 322.9 853.2 311.9 853.2 322.9ZM647.2 323.1 647.2 316.2 647.2 323.1ZM863.2 335.6 863.2 325.7 863.2 335.6Z"/><path fill="#70c8f8" d="M572.2 85.4 571.5 39.6 572.2 39.6 572.8 39.6 572.2 85.4ZM578.7 89.5 578.5 68.6 578.7 39.6 579.7 39.6 579.2 79.3 578.7 89.5ZM584.7 174.3 584.2 138.9 584.0 79.6 584.2 39.6 584.7 39.5 585.3 39.6 584.5 94.6 585.2 148.6 585.2 164.6 584.7 174.3ZM588.2 58.4 588.2 39.6 588.2 58.4ZM603.2 81.8 603.0 72.6 603.0 39.6 605.0 39.6 604.7 69.2 604.2 64.4 603.2 81.8ZM606.2 92.3 605.7 90.7 605.5 73.6 605.4 39.6 605.7 39.6 606.4 39.6 606.2 92.3ZM613.7 149.1 613.4 137.6 614.0 46.6 614.1 39.6 615.2 39.6 615.2 74.6 614.7 121.6 614.2 147.1 613.7 149.1ZM617.2 228.1 616.8 185.6 616.9 126.6 617.2 95.6 617.5 87.6 617.8 39.6 618.2 39.6 618.5 39.6 618.6 107.6 618.0 142.6 617.2 228.1ZM619.2 56.6 619.0 50.6 619.0 39.6 619.7 39.6 619.7 46.6 619.2 56.6ZM624.2 142.0 623.7 138.6 623.7 135.6 623.6 81.6 624.0 39.6 624.7 39.6 624.8 86.6 624.2 142.0ZM662.7 335.6 651.2 335.6 650.2 320.2 648.2 300.6 647.2 280.9 646.2 271.6 644.2 257.1 643.6 250.6 643.0 150.6 642.3 131.6 640.6 104.6 640.3 39.6 689.7 39.6 689.5 74.6 687.8 119.6 684.4 149.6 684.2 174.8 683.9 171.6 684.0 156.6 683.7 153.8 682.8 159.6 682.2 168.0 680.2 179.6 678.5 185.6 677.2 187.9 676.7 187.9 675.8 185.6 674.8 179.6 673.2 171.9 673.2 225.6 672.7 239.7 672.3 204.6 672.4 169.6 670.2 153.9 669.8 158.6 669.7 181.9 669.5 150.6 668.7 144.4 668.3 145.6 669.2 249.6 668.7 257.3 666.2 279.3 665.4 300.6 663.7 320.6 663.0 335.6 662.7 335.6ZM691.2 77.7 690.8 39.6 691.2 39.6 691.6 39.6 691.9 70.6 691.7 77.4 691.2 77.7ZM714.7 61.6 714.2 60.2 714.1 39.6 715.0 39.6 714.7 61.6ZM728.7 116.1 727.9 67.6 728.5 39.6 729.2 39.6 729.5 39.6 729.6 50.6 729.5 94.6 729.3 105.6 728.7 116.1ZM733.7 113.0 733.5 53.6 733.6 39.6 734.2 39.6 734.6 39.6 734.7 79.6 734.4 97.6 733.7 113.0ZM741.2 135.5 740.9 130.6 740.7 119.6 740.8 68.6 741.5 39.6 742.2 39.6 742.4 39.6 742.5 50.6 742.3 86.6 741.8 124.6 741.2 135.5ZM744.7 108.6 744.1 102.6 743.5 72.6 743.5 50.6 743.7 39.6 744.4 39.6 744.8 62.6 744.9 89.6 744.7 108.6ZM755.2 272.0 754.7 253.8 754.2 190.9 754.0 198.6 753.7 234.4 753.5 224.6 753.2 193.6 753.8 178.6 753.8 149.6 753.7 139.2 753.2 138.0 753.0 116.6 752.7 111.6 752.2 118.2 751.6 145.6 751.1 178.6 751.1 207.6 750.7 215.6 750.2 236.6 749.9 218.6 750.0 183.6 750.6 111.6 751.7 56.0 752.2 46.2 752.9 69.6 753.2 103.8 753.7 83.6 754.2 39.6 756.2 39.6 756.6 39.6 756.5 68.6 756.2 75.6 755.7 69.7 755.1 88.6 755.2 93.3 755.4 88.6 756.2 83.8 756.6 92.6 756.6 118.6 756.0 126.6 755.3 130.6 756.0 143.6 756.1 201.6 755.8 253.6 755.2 272.0ZM771.7 253.5 771.3 230.6 771.3 195.6 771.6 137.6 771.9 124.6 771.7 119.1 771.2 116.6 770.7 75.6 770.9 66.6 771.2 61.4 771.7 64.2 772.1 39.6 772.7 39.6 773.0 39.6 773.3 110.6 772.2 226.6 771.7 253.5ZM776.7 104.5 776.3 79.6 776.3 39.6 777.2 39.5 777.8 39.6 777.7 55.6 777.4 91.6 776.7 104.5ZM793.2 70.9 792.7 64.9 792.4 53.6 792.3 39.6 792.7 39.6 793.6 39.6 793.5 57.6 793.2 70.9ZM796.2 112.7 795.7 63.6 795.9 42.6 795.9 39.6 796.2 39.6 796.5 48.6 796.6 78.6 796.2 112.7ZM798.2 70.3 797.9 45.6 797.9 39.6 798.2 39.6 798.5 39.6 798.2 70.3ZM803.2 182.9 802.7 175.0 802.5 149.6 803.0 63.6 803.2 49.8 803.7 39.6 804.1 61.6 804.1 102.6 803.9 145.6 803.2 182.9ZM805.2 100.8 804.7 100.9 804.6 98.6 804.3 79.6 804.7 45.1 804.9 39.6 805.2 39.6 805.4 70.6 805.2 100.8ZM839.7 335.6 826.1 335.6 825.2 322.7 823.7 308.9 821.2 281.6 816.8 249.6 813.8 198.6 810.8 159.6 810.2 137.9 809.9 159.6 809.2 169.7 808.9 110.6 809.2 70.6 809.0 39.6 843.6 39.6 843.9 70.6 844.9 110.6 845.2 159.6 844.2 179.0 843.7 214.3 843.2 211.9 842.9 216.6 842.2 249.6 841.0 277.6 841.1 300.6 840.1 321.6 839.9 335.6 839.7 335.6ZM853.2 106.4 853.0 82.6 853.0 39.6 854.2 39.6 854.4 39.6 854.7 92.6 854.4 84.6 854.2 83.7 853.7 83.2 853.2 106.4ZM875.2 222.9 874.7 220.6 874.3 208.6 874.4 156.6 874.8 133.6 874.2 92.3 874.0 110.6 874.0 198.6 873.7 208.7 873.1 170.6 872.8 39.6 873.2 39.6 875.5 39.6 875.5 98.6 876.2 111.6 876.4 146.6 876.0 194.6 875.2 222.9ZM871.7 72.5 871.6 48.6 871.7 44.8 872.2 40.0 872.4 47.6 872.4 62.6 872.2 69.7 871.7 72.5ZM597.7 60.0 597.7 41.3 597.7 60.0ZM761.7 209.5 761.5 129.6 761.2 103.5 761.0 101.6 760.7 101.4 760.5 97.6 760.2 76.6 760.3 67.6 760.7 60.4 761.2 96.3 761.8 82.6 761.7 43.1 761.8 46.6 762.2 48.3 762.6 88.6 761.9 160.6 761.9 200.6 761.7 209.5ZM731.7 99.4 731.4 88.6 731.4 75.6 731.7 58.3 732.2 46.9 732.2 71.4 731.7 99.4ZM846.7 79.7 846.5 73.6 846.7 52.3 846.7 79.7ZM763.7 221.8 763.5 198.6 763.7 164.6 763.2 86.6 763.3 65.6 763.7 52.7 764.5 79.6 765.7 182.6 765.2 216.2 764.7 220.2 764.2 203.0 763.7 221.8ZM577.2 77.5 576.9 68.6 577.2 53.9 577.4 66.6 577.2 77.5ZM797.2 79.1 797.2 55.3 797.2 79.1ZM622.2 174.2 621.7 167.6 621.0 121.6 620.8 75.6 621.2 56.3 621.8 79.6 622.3 126.6 622.5 164.6 622.2 174.2ZM602.7 172.2 602.5 165.6 601.2 160.0 600.7 152.6 601.1 143.6 601.2 68.1 601.7 57.3 602.2 95.3 602.7 89.8 602.8 92.6 603.0 137.6 603.2 139.4 604.2 141.1 604.7 143.3 605.2 147.6 605.3 151.6 605.2 156.6 604.7 160.7 604.2 162.9 602.9 165.6 602.7 172.2ZM774.2 145.1 774.0 107.6 774.7 62.6 775.1 76.6 775.1 96.6 774.2 145.1ZM692.7 84.3 692.4 74.6 692.7 62.7 692.9 73.6 692.7 84.3ZM574.7 164.6 574.2 157.5 573.5 111.6 573.7 66.5 574.2 79.6 574.7 117.6 574.7 164.6ZM864.2 114.7 863.8 87.6 864.2 66.0 864.7 76.8 864.8 94.6 864.7 111.2 864.2 114.7ZM738.2 187.8 737.4 124.6 737.6 90.6 738.2 67.8 738.4 160.6 738.2 187.8ZM579.7 184.5 579.4 169.6 579.4 135.6 580.2 68.8 580.6 78.6 580.6 110.6 580.3 149.6 579.7 184.5ZM722.7 115.3 722.4 92.6 722.7 69.5 723.2 73.1 723.4 91.6 723.2 110.5 722.7 115.3ZM857.2 89.9 857.2 69.3 857.5 82.6 857.2 89.9ZM740.2 120.7 740.2 71.3 740.6 101.6 740.2 120.7ZM587.2 128.3 586.7 124.4 586.4 108.6 586.4 83.6 586.7 72.8 587.2 74.2 587.6 91.6 587.6 112.6 587.2 128.3ZM806.2 117.5 806.0 116.6 806.0 113.6 806.2 73.3 806.2 117.5ZM634.7 95.9 634.7 74.4 634.7 95.9ZM807.2 76.9 807.2 74.1 807.2 76.9ZM630.2 133.1 629.8 123.6 629.8 105.6 630.2 81.0 630.7 77.0 630.8 107.6 630.2 133.1ZM747.7 133.2 747.5 102.6 747.7 84.5 747.9 113.6 747.7 133.2ZM749.2 135.8 749.0 133.6 748.9 127.6 749.2 87.7 749.5 89.6 749.5 94.6 749.2 135.8ZM775.7 131.7 775.4 97.6 775.7 89.3 775.9 118.6 775.7 131.7ZM619.2 159.7 618.9 110.6 619.7 91.3 619.8 129.6 619.5 156.6 619.2 159.7ZM716.7 133.1 716.7 92.4 716.9 122.6 716.7 133.1ZM850.2 179.2 849.7 137.6 849.8 107.6 850.2 94.4 850.7 96.0 850.8 99.6 851.1 136.6 850.8 173.6 850.7 177.0 850.2 179.2ZM860.7 191.6 860.2 161.2 859.7 169.5 859.6 162.6 859.5 125.6 859.7 93.8 860.2 115.5 860.4 145.6 860.7 151.8 860.9 186.6 860.7 191.6ZM778.2 236.2 777.7 180.6 777.9 115.6 778.2 94.7 778.8 122.6 779.2 186.6 779.1 207.6 778.2 236.2ZM590.2 246.1 589.9 232.6 589.7 196.2 589.2 234.2 589.1 225.6 589.2 176.6 588.9 131.6 589.2 97.2 589.7 101.9 589.8 110.6 590.0 168.6 590.2 172.4 590.7 157.4 591.0 174.6 590.9 218.6 590.2 246.1ZM770.2 160.3 770.0 155.6 769.7 153.7 769.6 142.6 769.5 113.6 769.7 98.8 770.2 160.3ZM857.7 250.6 857.2 247.4 857.2 244.6 856.9 190.6 857.1 132.6 857.7 99.8 858.2 112.0 858.5 153.6 858.2 212.6 857.7 250.6ZM868.2 247.7 867.7 239.9 867.5 225.6 867.4 171.6 867.1 138.6 867.2 111.6 867.7 101.3 868.1 132.6 868.1 165.6 868.5 202.6 868.2 247.7ZM617.7 109.6 617.7 104.8 617.7 110.5 617.7 109.6ZM875.2 113.6 875.2 106.8 875.2 113.6ZM790.7 227.1 790.3 213.6 790.2 190.6 790.9 143.6 790.8 121.6 791.2 108.3 791.7 110.6 792.4 128.6 792.5 146.6 791.5 210.6 791.2 220.2 790.7 227.1ZM872.2 114.4 872.2 108.2 872.2 114.4ZM747.2 203.7 746.7 186.6 746.5 158.6 746.4 126.6 746.7 108.6 747.4 143.6 747.5 162.6 747.5 186.6 747.2 203.7ZM846.2 187.0 845.8 171.6 845.8 148.6 846.0 126.6 846.7 109.1 847.2 109.6 847.4 115.6 847.5 146.6 847.0 176.6 846.7 185.0 846.2 187.0ZM872.2 250.8 871.4 212.6 871.0 162.6 871.0 123.6 871.2 109.1 871.5 117.6 872.4 185.6 872.4 235.6 872.2 250.8ZM730.2 161.0 730.2 114.9 730.4 139.6 730.2 161.0ZM806.7 213.2 806.3 176.6 805.3 157.6 805.7 118.1 805.9 124.6 806.2 125.5 806.7 132.6 807.4 164.6 807.4 199.6 807.2 207.1 806.7 213.2ZM735.2 186.0 734.9 173.6 734.9 157.6 735.2 139.6 735.6 133.6 735.7 119.0 735.8 165.6 735.7 175.0 735.2 186.0ZM739.2 162.8 739.0 138.6 739.2 119.4 739.4 150.6 739.2 162.8ZM688.7 153.5 688.2 150.7 688.1 139.6 688.2 128.3 688.7 120.0 688.9 135.6 688.7 153.5ZM794.2 227.7 793.7 220.9 793.1 177.6 792.9 137.6 793.2 121.7 793.9 165.6 794.2 227.7ZM788.2 165.5 787.9 146.6 788.2 125.7 788.6 146.6 788.2 165.5ZM627.7 187.8 627.0 179.6 626.7 161.1 626.2 181.9 625.7 174.8 625.7 154.6 626.2 128.0 626.7 141.9 626.9 131.6 627.2 128.2 627.7 132.6 628.0 140.6 628.2 169.6 627.7 187.8ZM855.2 204.9 854.9 164.6 855.2 129.3 855.7 175.6 855.7 192.6 855.2 204.9ZM632.2 193.4 631.7 186.7 631.5 172.6 631.4 151.6 631.7 135.3 632.2 139.3 632.5 155.6 632.5 177.6 632.2 193.4ZM721.2 158.4 720.7 157.6 720.6 155.6 720.7 138.4 721.2 143.9 721.2 158.4ZM786.2 160.4 785.9 145.6 786.2 138.2 786.7 156.6 786.6 158.6 786.2 160.4ZM722.2 217.6 722.1 152.6 722.2 140.5 722.7 139.4 722.9 173.6 722.2 217.6ZM787.2 181.8 786.7 157.6 786.8 148.6 787.2 141.4 787.5 144.6 787.6 154.6 787.2 181.8ZM808.2 229.0 808.0 181.6 808.2 141.1 808.5 190.6 808.2 229.0ZM581.7 219.5 581.2 214.3 581.1 196.6 581.2 174.2 581.7 146.5 582.0 176.6 581.7 219.5ZM704.7 167.0 704.5 155.6 704.7 145.6 705.1 159.6 704.7 167.0ZM609.7 264.5 609.2 252.0 609.0 209.6 609.2 166.8 609.7 148.1 610.1 171.6 610.2 202.6 609.7 264.5ZM743.7 206.0 743.3 177.6 743.7 153.5 744.0 180.6 743.7 206.0ZM852.7 203.2 852.2 202.6 852.2 201.6 851.8 183.6 852.1 163.6 852.7 153.7 853.2 159.3 853.4 174.6 853.2 190.6 852.7 203.2ZM700.2 262.6 699.6 247.6 699.1 203.6 699.2 167.2 699.7 156.7 700.2 175.6 700.6 216.6 700.6 245.6 700.2 262.6ZM748.2 201.9 748.0 178.6 748.2 160.1 748.2 201.9ZM606.7 199.1 606.3 182.6 606.7 163.5 607.2 167.2 607.3 180.6 607.2 191.1 606.7 199.1ZM731.7 188.0 731.3 184.6 731.3 180.6 731.7 166.3 731.9 175.6 731.7 188.0ZM720.2 170.6 720.2 167.2 720.2 170.6ZM760.2 237.9 759.9 225.6 759.9 202.6 760.1 182.6 760.7 169.0 761.0 183.6 761.0 208.6 760.2 237.9ZM605.7 209.7 605.5 192.6 605.7 177.2 606.1 187.6 605.7 209.7ZM728.7 202.8 728.7 180.5 728.9 192.6 728.7 202.8ZM777.2 237.2 776.9 235.6 776.8 230.6 777.2 180.2 777.6 181.6 777.6 184.6 777.2 237.2ZM623.2 243.9 622.7 238.2 622.7 183.2 623.2 186.8 623.2 243.9ZM782.7 204.3 782.7 189.6 783.2 185.5 783.2 198.7 782.7 204.3ZM869.7 228.3 869.2 227.0 869.0 218.6 868.9 199.6 869.2 184.7 869.7 185.1 869.9 195.6 869.7 228.3ZM776.2 244.6 775.7 224.4 775.6 207.6 775.7 191.2 776.2 185.8 776.7 235.6 776.6 241.6 776.2 244.6ZM797.2 226.4 796.7 222.2 796.5 210.6 796.4 195.6 796.7 186.0 797.3 204.6 797.2 226.4ZM612.7 232.1 612.3 218.6 612.2 207.6 612.2 198.6 612.7 191.9 613.1 214.6 612.7 232.1ZM861.2 231.4 861.0 197.6 861.2 192.8 861.4 199.6 861.2 231.4ZM603.2 226.7 602.9 211.6 603.2 194.0 603.5 209.6 603.2 226.7ZM715.2 228.1 715.0 210.6 715.2 199.5 715.4 217.6 715.2 228.1Z"/><path fill="#88f8f8" d="M572.2 69.1 571.8 39.6 572.2 39.6 572.4 39.6 572.2 69.1ZM579.2 61.8 579.0 52.6 579.2 39.6 579.2 61.8ZM584.2 92.6 584.2 55.2 584.4 39.6 584.7 39.6 585.2 39.6 584.7 81.5 584.2 92.6ZM603.2 62.7 603.1 39.6 604.4 39.6 604.4 47.6 603.2 62.7ZM605.7 70.1 605.6 39.6 606.1 39.6 606.2 66.1 605.7 70.1ZM614.2 130.7 613.8 118.6 613.8 94.6 614.2 50.0 614.7 39.6 614.9 53.6 614.9 82.6 614.2 130.7ZM618.2 112.9 617.9 73.6 618.2 39.6 618.4 69.6 618.2 112.9ZM662.7 335.6 651.4 335.6 650.3 317.6 648.6 300.6 647.2 274.8 644.1 250.6 643.3 150.6 642.5 126.6 641.0 104.6 640.7 39.6 689.1 39.6 688.9 74.6 687.3 120.6 685.2 139.6 683.8 150.6 682.8 156.6 682.1 163.6 679.1 180.6 678.2 183.4 677.2 184.9 676.2 183.0 674.3 172.6 672.2 164.3 668.2 138.6 668.0 139.6 667.9 150.6 668.8 249.6 668.2 256.4 666.2 272.6 665.6 282.6 665.0 300.6 663.6 317.6 662.7 335.6ZM691.2 57.9 691.2 39.6 691.2 57.9ZM733.7 92.4 733.7 51.6 733.8 39.6 734.2 39.6 734.4 39.6 734.4 76.6 734.2 87.0 733.7 92.4ZM741.2 124.6 740.9 106.6 741.0 77.6 741.7 39.6 741.9 39.6 742.2 41.0 742.3 47.6 742.2 80.6 741.7 117.8 741.2 124.6ZM756.2 65.4 755.8 49.6 755.9 39.6 756.2 39.6 756.4 39.6 756.4 46.6 756.2 65.4ZM771.7 241.3 771.4 212.6 771.5 169.6 771.7 141.7 772.3 126.6 772.0 99.6 772.0 74.6 772.4 42.6 772.5 39.6 772.7 39.6 773.0 63.6 773.0 114.6 772.2 215.8 771.7 241.3ZM776.7 94.0 776.4 71.6 776.5 39.6 777.2 39.6 777.6 39.6 777.5 65.6 777.2 86.7 776.7 94.0ZM793.2 63.8 792.6 55.6 792.4 39.6 792.7 39.6 793.4 39.6 793.2 63.8ZM839.7 335.6 826.3 335.6 825.2 319.5 821.2 277.8 817.4 249.6 814.8 202.6 811.7 159.6 810.7 122.8 810.2 124.9 809.7 151.9 809.2 149.8 809.2 112.6 809.8 59.6 809.6 39.6 843.0 39.6 843.3 69.6 844.0 110.6 844.3 159.6 844.0 168.6 843.7 200.2 843.2 202.0 842.7 198.5 841.6 249.6 840.7 271.6 840.8 300.6 839.9 319.6 839.7 335.6ZM873.7 191.2 873.1 141.6 873.2 68.6 872.9 39.6 875.2 39.6 875.4 39.6 875.2 85.6 874.7 106.0 874.2 78.5 873.9 84.6 873.9 155.6 873.7 191.2ZM755.2 257.3 754.7 228.6 754.7 173.7 754.2 173.5 754.1 161.6 753.8 101.6 754.2 56.7 754.6 46.6 755.2 40.2 755.5 46.6 755.6 57.6 755.3 75.6 754.8 83.6 754.6 135.6 754.7 149.3 755.2 144.1 755.7 155.4 755.9 198.6 755.7 242.4 755.2 257.3ZM796.2 104.1 795.9 67.6 796.2 40.9 796.5 75.6 796.2 104.1ZM624.2 126.5 623.8 99.6 624.2 42.1 624.6 49.6 624.7 63.6 624.2 126.5ZM729.2 99.4 728.8 94.6 728.8 75.6 728.6 58.6 728.7 47.6 729.2 42.0 729.5 62.6 729.2 99.4ZM744.2 95.9 743.7 55.6 743.8 46.6 744.2 42.5 744.7 82.6 744.7 92.9 744.2 95.9ZM872.2 59.9 872.0 59.6 871.8 57.6 872.2 49.7 872.2 59.9ZM853.2 59.6 853.2 50.8 853.2 59.6ZM803.2 156.8 803.0 147.6 803.0 97.6 803.2 67.8 803.7 54.5 803.9 113.6 803.7 139.4 803.2 156.8ZM750.2 220.7 750.1 180.6 750.6 123.6 751.7 65.1 752.2 57.6 752.7 75.8 752.7 95.6 752.2 106.9 751.5 138.6 750.9 196.6 750.2 220.7ZM621.7 158.5 621.0 109.6 621.2 68.3 621.7 87.6 622.2 134.6 622.2 151.6 621.7 158.5ZM760.7 93.1 760.5 79.6 760.7 68.7 760.9 83.6 760.7 93.1ZM764.7 205.4 763.9 181.6 763.5 106.6 763.7 69.5 764.2 82.6 764.9 134.6 765.1 183.6 764.7 205.4ZM762.2 92.5 762.2 69.6 762.2 92.5ZM771.2 101.1 771.2 76.9 771.4 92.6 771.2 101.1ZM579.7 174.9 579.5 131.6 580.2 77.6 580.5 91.6 580.4 121.6 579.7 174.9ZM601.7 138.3 601.3 107.6 601.7 78.3 601.9 111.6 601.7 138.3ZM587.2 122.6 586.7 118.4 586.5 108.6 586.7 78.8 587.2 79.9 587.4 91.6 587.5 108.6 587.2 122.6ZM774.7 104.3 774.7 79.6 774.7 104.3ZM864.2 100.9 864.2 79.8 864.4 91.6 864.2 100.9ZM755.7 122.2 755.4 114.6 755.4 100.6 755.7 93.6 756.2 90.0 756.4 111.6 756.2 117.6 755.7 122.2ZM630.2 116.1 630.2 98.0 630.2 116.1ZM761.7 118.4 761.7 103.7 761.7 118.4ZM850.2 169.3 849.9 136.6 850.2 104.3 850.7 106.6 851.0 136.6 850.7 166.4 850.2 169.3ZM574.2 132.0 574.2 105.1 574.2 132.0ZM737.7 135.1 737.7 105.9 737.9 131.6 738.1 134.6 737.7 135.1ZM617.2 212.8 617.0 164.6 617.2 111.0 617.6 128.6 617.7 151.6 617.2 212.8ZM867.7 167.6 867.4 133.6 867.7 112.1 868.0 144.6 867.7 167.6ZM875.2 212.7 874.8 207.6 874.6 201.6 874.6 166.6 875.1 127.6 875.7 114.3 876.2 130.6 876.2 156.6 875.8 194.6 875.2 212.7ZM857.7 235.3 857.2 227.6 857.0 187.6 857.2 143.4 857.7 115.0 858.2 135.6 858.3 161.6 858.2 197.6 857.7 235.3ZM778.2 221.3 778.0 193.6 778.3 173.6 778.2 117.5 778.7 131.6 778.9 171.6 778.8 192.6 778.2 221.3ZM790.7 218.0 790.4 204.6 790.4 184.6 790.7 161.6 791.1 146.6 791.2 117.5 791.7 118.2 791.8 121.6 792.2 150.6 791.3 206.6 791.2 212.3 790.7 218.0ZM846.2 177.8 846.0 145.6 846.2 131.6 846.7 116.7 847.2 121.6 847.3 149.6 846.7 177.4 846.2 177.8ZM584.7 156.4 584.5 133.6 584.7 118.2 584.7 156.4ZM872.2 237.9 871.5 201.6 871.1 153.6 871.2 121.2 872.0 177.6 872.2 237.9ZM619.2 140.1 619.2 123.5 619.2 140.1ZM589.7 161.2 589.3 139.6 589.7 130.0 589.7 161.2ZM746.7 166.7 746.7 130.0 746.9 156.6 746.7 166.7ZM806.7 204.9 806.5 172.6 805.9 163.6 805.6 151.6 805.8 139.6 806.2 129.9 806.8 144.6 806.9 155.6 806.6 162.6 806.7 164.3 807.2 163.3 807.3 172.6 807.2 197.6 806.7 204.9ZM627.7 181.7 627.2 177.4 626.9 161.6 626.9 145.6 627.2 134.3 627.7 138.7 628.0 153.6 628.0 169.6 627.7 181.7ZM738.2 167.1 737.9 135.6 738.2 134.7 738.2 167.1ZM793.7 205.2 793.2 168.8 793.2 141.5 793.8 168.6 793.7 205.2ZM603.2 161.8 602.6 161.6 601.9 159.6 601.2 153.6 601.5 146.6 602.0 143.6 602.7 142.2 603.2 142.2 603.7 142.9 604.2 144.6 604.8 150.6 604.5 157.6 603.9 160.6 603.2 161.8ZM632.2 184.9 631.7 174.6 631.7 144.6 632.2 147.9 632.3 152.6 632.2 184.9ZM855.2 188.7 855.2 145.5 855.4 170.6 855.2 188.7ZM787.2 169.2 787.0 157.6 787.2 146.8 787.4 157.6 787.2 169.2ZM735.2 171.9 735.2 153.2 735.4 160.6 735.2 171.9ZM852.7 198.3 852.2 196.7 852.0 182.6 852.2 166.4 852.7 158.5 853.1 165.6 853.2 175.6 852.7 198.3ZM609.7 249.3 609.2 229.6 609.2 209.6 609.3 187.6 609.7 163.3 610.0 204.6 609.7 249.3ZM581.7 199.4 581.7 166.5 581.7 199.4ZM590.2 237.9 589.9 188.6 590.7 165.7 590.9 205.6 590.7 221.4 590.2 237.9ZM808.2 202.6 808.2 167.4 808.2 202.6ZM700.2 245.6 699.7 235.0 699.5 212.6 699.4 188.6 699.7 172.5 700.2 189.9 700.3 204.6 700.2 245.6ZM672.7 219.6 672.7 176.4 672.9 199.6 672.7 219.6ZM760.2 230.6 760.0 199.6 760.2 188.0 760.7 176.9 760.9 206.6 760.2 230.6ZM606.7 184.3 606.7 178.3 606.7 184.3ZM867.7 211.8 867.7 186.2 868.2 208.6 868.2 211.1 867.7 211.8ZM796.7 214.7 796.7 193.4 797.0 209.6 796.7 214.7ZM777.2 222.3 777.2 195.1 777.2 222.3ZM776.2 230.4 776.0 212.6 776.2 199.9 776.2 230.4ZM603.2 219.0 603.2 201.6 603.2 219.0ZM869.7 210.7 869.3 205.6 869.7 202.7 869.7 210.7ZM612.7 220.4 612.7 203.7 612.7 220.4ZM715.2 216.5 715.2 211.1 715.2 216.5Z"/><path fill="#88f4d8" d="M584.7 72.4 584.4 60.6 584.5 39.6 584.7 39.6 585.0 39.6 584.7 72.4ZM662.2 335.6 651.6 335.6 650.6 317.6 648.8 299.6 648.0 280.6 647.2 268.6 646.4 261.6 644.5 249.6 643.7 149.6 642.7 118.9 641.5 104.6 641.1 39.6 688.5 39.6 688.3 74.6 686.9 120.6 683.7 148.3 681.7 161.2 679.9 169.6 678.5 179.6 677.7 181.2 677.2 181.3 676.7 180.3 674.3 168.6 672.2 160.6 669.7 146.3 667.9 134.6 667.7 132.1 667.6 132.6 667.4 150.6 667.7 160.4 668.3 249.6 666.6 261.6 665.8 269.6 665.3 281.6 664.8 299.6 663.3 317.6 662.6 335.6 662.2 335.6ZM734.2 70.5 734.0 55.6 734.2 39.6 734.2 70.5ZM776.7 82.3 776.6 39.6 777.2 39.6 777.4 39.6 777.3 70.6 777.2 76.2 776.7 82.3ZM793.2 55.5 792.7 50.1 792.6 39.6 793.3 39.6 793.2 55.5ZM839.2 335.6 826.5 335.6 825.2 316.1 821.5 276.6 820.2 265.0 818.0 249.6 815.4 199.6 812.5 159.6 811.2 109.8 810.7 76.7 809.7 138.9 809.6 136.6 809.4 121.6 809.5 94.6 809.7 74.9 810.5 54.6 810.3 39.6 842.3 39.6 843.6 143.6 843.6 179.6 843.2 191.4 842.7 176.2 841.6 212.6 841.0 249.6 840.2 267.6 840.4 300.6 839.7 315.8 839.4 335.6 839.2 335.6ZM873.7 78.2 873.2 57.1 873.1 39.6 873.7 39.6 874.1 39.6 874.1 55.6 873.7 78.2ZM874.7 76.9 874.6 52.6 874.8 39.6 875.2 39.6 875.2 71.9 874.7 76.9ZM741.2 111.0 741.2 82.6 741.7 47.9 742.1 58.6 742.0 81.6 741.7 108.7 741.2 111.0ZM772.7 129.4 772.4 87.6 772.7 49.0 772.9 97.6 772.7 129.4ZM796.2 94.8 796.0 70.6 796.2 50.2 796.4 73.6 796.2 94.8ZM729.2 90.1 729.0 63.6 729.2 51.3 729.2 90.1ZM744.2 85.4 744.0 65.6 744.2 53.0 744.4 73.6 744.2 85.4ZM755.2 65.1 755.2 53.0 755.2 65.1ZM624.2 107.1 624.2 61.5 624.2 107.1ZM614.2 108.4 614.2 72.2 614.5 79.6 614.2 108.4ZM751.7 121.5 751.4 119.6 751.4 114.6 751.7 75.1 752.2 75.4 752.3 82.6 751.7 121.5ZM754.2 153.9 754.0 105.6 754.2 76.3 754.5 105.6 754.2 153.9ZM803.2 132.6 803.2 92.0 803.7 81.6 803.7 112.2 803.2 132.6ZM621.7 147.1 621.2 113.7 621.2 83.9 621.7 96.1 621.8 108.6 621.9 133.6 621.7 147.1ZM587.2 116.4 586.7 110.6 586.7 85.7 587.2 86.0 587.3 89.6 587.2 116.4ZM579.7 164.0 579.7 127.6 580.2 87.1 580.3 127.6 579.7 164.0ZM764.7 188.3 764.1 168.6 763.7 123.4 763.7 93.6 764.2 94.2 764.7 129.4 764.9 164.6 764.7 188.3ZM755.7 113.8 755.7 101.6 756.2 99.4 756.2 108.2 755.7 113.8ZM873.7 170.9 873.2 110.6 873.3 102.6 873.7 99.8 873.7 170.9ZM850.2 158.1 850.0 136.6 850.2 115.5 850.7 119.5 850.8 136.6 850.7 153.5 850.2 158.1ZM846.7 169.3 846.2 165.9 846.1 154.6 846.2 142.4 846.7 124.8 847.1 131.6 847.2 140.6 846.7 169.3ZM867.7 153.6 867.7 126.1 867.7 153.6ZM875.2 202.1 874.8 188.6 874.8 166.6 875.2 134.5 875.7 125.7 876.0 141.6 875.9 164.6 875.7 187.1 875.2 202.1ZM790.7 207.7 790.7 170.6 791.4 147.6 791.3 132.6 791.7 127.4 791.9 144.6 791.5 158.6 791.5 186.6 791.2 204.0 790.7 207.7ZM617.2 195.3 617.2 128.4 617.4 157.6 617.2 195.3ZM857.7 219.1 857.3 204.6 857.2 185.6 857.7 131.2 858.0 168.6 857.7 219.1ZM750.7 191.1 750.4 179.6 750.7 132.0 751.0 132.6 751.1 136.6 750.7 191.1ZM806.2 164.4 805.8 149.6 806.2 134.5 806.6 149.6 806.2 164.4ZM627.7 174.9 627.2 170.6 627.1 164.6 627.2 141.1 627.7 145.5 627.8 151.6 627.7 174.9ZM603.2 158.6 602.7 158.5 602.2 157.0 601.8 151.6 602.2 147.0 602.7 145.5 603.2 145.4 603.9 147.6 604.2 151.6 603.9 156.6 603.2 158.6ZM771.7 228.5 771.6 166.6 771.7 154.5 772.2 148.2 772.2 198.6 771.7 228.5ZM787.2 159.7 787.2 156.4 787.2 159.7ZM871.7 203.1 871.5 170.6 871.7 158.1 871.9 184.6 871.7 203.1ZM755.2 241.6 754.8 201.6 755.2 159.9 755.7 180.1 755.7 198.6 755.7 217.7 755.2 241.6ZM632.2 171.1 632.2 161.6 632.2 171.1ZM852.7 193.3 852.2 188.9 852.1 181.6 852.2 174.2 852.7 163.5 853.0 176.6 852.7 193.3ZM590.2 228.8 590.1 195.6 590.7 175.2 590.7 209.6 590.2 228.8ZM806.7 193.7 806.7 175.5 807.0 181.6 806.7 193.7ZM609.7 230.8 609.5 207.6 609.7 181.8 609.7 230.8ZM760.2 221.7 760.2 196.8 760.7 187.8 760.7 204.4 760.2 221.7Z"/><path fill="#88f0b0" d="M584.7 60.7 584.7 39.6 584.7 60.7ZM662.2 335.6 651.8 335.6 650.7 314.9 649.2 299.6 647.7 267.6 646.8 258.6 645.4 249.6 645.1 199.6 645.3 150.6 644.3 142.6 643.8 135.6 642.7 105.6 642.4 39.6 688.1 39.6 687.9 74.6 687.0 98.6 686.5 120.6 683.7 145.7 681.7 156.8 680.2 162.6 678.2 174.1 677.7 175.7 677.2 176.0 676.2 173.0 674.2 163.8 672.2 156.7 669.7 144.0 667.7 129.3 667.4 129.6 667.2 130.6 666.9 140.6 666.0 150.6 667.1 199.6 667.4 249.6 666.2 258.2 665.5 266.6 664.4 299.6 663.2 314.0 662.4 335.6 662.2 335.6ZM777.2 62.2 776.9 60.6 776.8 56.6 777.2 39.6 777.2 62.2ZM838.7 335.6 826.8 335.6 825.2 312.5 821.8 275.6 820.3 261.6 818.7 249.6 816.6 206.6 813.5 159.6 812.2 109.6 811.2 39.6 841.4 39.6 842.5 159.6 840.9 206.6 840.3 249.6 839.8 263.6 840.1 299.6 839.5 313.6 839.2 335.6 838.7 335.6ZM873.7 67.9 873.3 39.6 873.7 39.6 873.9 39.6 873.9 50.6 873.7 67.9ZM741.7 98.1 741.4 85.6 741.7 58.5 741.9 73.6 741.7 98.1ZM796.2 80.9 796.2 64.0 796.2 80.9ZM772.7 98.7 772.7 79.8 772.7 98.7ZM751.7 106.2 751.7 90.3 751.7 106.2ZM809.7 120.5 809.7 93.4 809.7 120.5ZM587.2 107.6 586.9 99.6 587.2 94.9 587.2 107.6ZM580.2 125.1 580.2 99.6 580.2 125.1ZM764.2 155.2 764.2 112.2 764.4 144.6 764.2 155.2ZM621.7 128.4 621.7 114.8 621.7 128.4ZM846.7 158.7 846.5 149.6 846.7 135.4 846.7 158.7ZM806.2 158.9 806.0 149.6 806.2 139.9 806.4 149.6 806.2 158.9ZM875.2 189.4 875.1 153.6 875.2 147.2 875.7 140.7 875.7 172.1 875.2 189.4ZM843.2 177.8 842.9 159.6 843.2 145.8 843.2 177.8ZM750.7 172.3 750.7 150.8 750.7 172.3ZM627.7 163.0 627.2 159.1 627.2 152.6 627.7 157.4 627.7 163.0ZM857.7 197.7 857.7 152.7 857.7 197.7ZM644.2 197.3 644.2 158.5 644.5 177.6 644.2 197.3ZM791.2 194.1 790.9 190.6 790.8 185.6 791.2 161.2 791.4 174.6 791.2 194.1ZM852.7 186.9 852.5 179.6 852.7 169.9 852.7 186.9ZM771.7 212.2 771.7 170.8 772.0 183.6 771.7 212.2ZM871.7 187.8 871.7 173.4 871.7 187.8ZM755.2 220.0 755.2 181.4 755.2 220.0ZM590.2 212.8 590.2 205.6 590.2 212.8Z"/><path fill="#88f088" d="M661.7 335.6 652.1 335.6 650.9 313.6 649.6 299.6 648.0 264.6 647.3 256.6 646.4 249.6 645.8 150.6 645.2 138.7 644.7 136.4 644.0 127.6 643.2 105.6 643.0 39.6 687.7 39.6 687.5 74.6 686.5 98.6 686.1 120.6 684.6 132.6 683.7 143.0 681.7 152.6 680.2 157.6 678.2 167.3 677.2 169.9 675.7 165.7 673.5 156.6 671.7 150.9 669.7 141.6 668.8 132.6 667.2 122.9 666.8 124.6 666.3 135.6 665.7 139.5 665.5 149.6 666.1 200.6 666.4 249.6 665.7 255.6 665.1 263.6 664.0 299.6 662.9 313.6 662.1 335.6 661.7 335.6ZM838.7 335.6 827.1 335.6 825.3 309.6 822.5 278.6 820.9 262.6 819.3 249.6 817.5 204.6 814.5 159.6 812.4 70.6 812.0 39.6 840.5 39.6 841.5 159.6 840.4 190.6 839.9 210.6 839.7 249.6 839.3 265.6 839.7 299.6 838.7 335.6Z"/><path fill="#90f060" d="M661.7 335.6 652.3 335.6 651.1 312.6 650.0 299.6 648.9 270.6 647.4 249.6 647.1 200.6 645.9 144.6 645.2 129.2 644.7 126.4 644.2 120.3 643.6 105.6 643.4 39.6 666.1 39.6 666.2 47.1 666.7 39.6 687.3 39.6 687.1 74.6 686.0 97.6 685.7 120.6 685.2 125.5 684.3 130.6 683.6 140.6 682.2 146.9 680.0 152.6 678.2 160.6 677.2 163.0 675.7 160.3 674.2 153.6 671.7 147.4 669.8 139.6 669.0 130.6 668.2 126.7 667.2 119.6 666.7 86.2 666.4 116.6 666.2 123.7 665.7 127.5 665.4 132.6 665.1 148.6 665.1 200.6 665.4 249.6 664.3 268.6 663.6 299.6 662.7 311.6 661.9 335.6 661.7 335.6ZM838.2 335.6 827.5 335.6 825.4 307.6 823.3 282.6 820.0 249.6 818.0 194.6 816.9 176.6 815.6 159.6 813.2 70.6 812.9 39.6 839.7 39.6 840.4 159.6 839.6 178.6 839.1 199.6 838.8 266.6 839.2 299.6 838.5 335.6 838.2 335.6Z"/><path fill="#98f048" d="M661.2 335.6 652.6 335.6 651.5 313.6 650.5 299.6 649.5 270.6 648.2 249.6 648.1 199.6 647.2 179.7 646.0 134.6 645.4 121.6 644.2 111.1 644.0 105.6 643.9 39.6 665.7 39.6 666.3 104.6 666.0 112.6 665.1 121.6 664.8 133.6 664.7 172.6 664.1 199.6 664.6 249.6 663.7 270.6 663.1 299.6 662.3 313.6 661.6 335.6 661.2 335.6ZM677.2 154.3 676.7 154.4 674.2 147.6 671.7 143.8 671.2 142.6 670.5 139.6 669.3 127.6 667.7 120.6 667.5 95.6 666.9 74.6 667.1 39.6 686.9 39.6 686.7 74.6 685.5 97.6 685.3 120.6 683.9 127.6 683.1 139.6 682.7 141.5 682.2 143.4 679.6 147.6 677.2 154.3ZM837.7 335.6 827.8 335.6 823.9 283.6 820.7 250.6 818.9 189.6 817.3 159.6 815.2 109.8 814.2 70.6 813.9 39.6 838.7 39.6 839.2 110.6 838.7 159.6 838.2 180.6 838.1 203.6 838.3 269.6 838.8 299.6 838.2 335.6 837.7 335.6Z"/><path fill="#a0f040" d="M661.2 335.6 652.8 335.6 651.9 314.6 650.9 299.6 649.7 261.8 649.1 249.6 649.2 199.6 648.5 177.6 647.9 163.6 647.2 153.8 646.0 114.6 645.6 109.6 644.6 104.6 644.6 39.6 665.2 39.6 665.3 76.6 665.7 104.6 664.7 109.6 664.3 117.6 664.2 151.6 663.4 168.6 663.0 195.6 663.7 249.6 663.2 265.0 662.7 299.6 661.9 315.6 661.4 335.6 661.2 335.6ZM676.7 144.8 674.2 141.6 671.6 139.6 670.2 124.7 669.4 121.6 668.2 119.6 668.1 85.6 667.6 74.6 667.7 39.6 686.3 39.6 686.2 74.6 685.5 79.6 684.8 94.6 684.7 119.6 683.4 122.6 682.8 125.6 682.2 139.7 679.5 141.6 676.7 144.8ZM837.7 335.6 828.1 335.6 824.2 281.5 821.4 250.6 819.6 174.6 817.8 112.6 816.2 70.6 816.3 39.6 836.3 39.6 837.0 70.6 836.7 115.6 836.9 188.6 837.8 270.6 838.4 299.6 837.7 335.6Z"/><path fill="#b0f040" d="M660.7 335.6 653.1 335.6 651.3 299.6 649.8 249.6 650.1 199.6 649.3 126.6 649.2 72.3 648.9 61.6 648.8 39.6 660.7 39.6 660.7 73.7 661.0 86.6 661.2 124.8 661.6 142.6 662.2 206.0 663.0 249.6 662.3 299.6 661.1 335.6 660.7 335.6ZM676.7 134.9 675.8 132.6 675.1 129.6 673.9 120.6 673.2 117.6 672.9 114.6 672.2 92.6 671.7 39.6 682.2 39.6 681.9 64.6 680.0 115.6 679.7 118.3 679.1 120.6 678.0 130.6 676.7 134.9ZM837.2 335.6 828.4 335.6 824.6 280.6 822.0 249.6 820.7 141.5 820.3 131.6 820.2 110.4 819.8 100.6 819.7 76.9 819.4 69.6 819.7 39.6 833.0 39.6 833.6 58.6 833.7 76.6 834.1 85.6 834.7 140.9 836.7 233.6 837.2 272.6 838.0 299.6 837.5 335.6 837.2 335.6Z"/><path fill="#c8f440" d="M660.7 335.6 653.4 335.6 651.7 299.6 650.3 249.6 650.5 199.6 649.6 104.6 649.4 39.6 660.3 39.6 660.6 105.6 662.5 249.6 661.9 299.6 660.7 335.6ZM676.7 124.3 676.2 123.2 674.0 112.6 673.4 105.6 672.8 82.6 672.3 39.6 681.7 39.6 680.9 76.6 679.6 106.6 679.2 111.2 677.4 119.6 676.7 124.3ZM837.2 335.6 828.7 335.6 825.1 279.6 822.7 249.6 820.3 88.6 820.1 69.6 820.2 39.6 832.4 39.6 833.4 84.6 836.4 261.6 837.6 299.6 837.2 335.6Z"/><path fill="#e6f43a" d="M660.2 335.6 653.7 335.6 652.0 299.6 650.7 249.6 650.8 199.6 650.0 105.6 649.6 39.6 659.9 39.6 660.3 105.6 662.1 249.6 661.6 299.6 660.5 335.6 660.2 335.6ZM676.7 114.6 676.2 114.2 674.2 106.0 673.7 100.9 673.1 77.6 672.6 39.6 681.4 39.6 680.6 74.6 679.2 102.6 678.7 106.4 676.7 114.6ZM836.7 335.6 829.0 335.6 827.7 312.6 823.4 249.6 820.9 109.6 820.6 70.6 820.6 39.6 831.9 39.6 833.4 109.6 835.6 250.6 837.1 299.6 837.0 335.6 836.7 335.6Z"/><path fill="#fcf030" d="M660.2 335.6 654.0 335.6 653.4 318.6 652.4 299.6 651.0 249.6 651.1 196.6 650.3 104.6 650.0 39.6 659.6 39.6 659.9 105.6 661.8 249.6 661.2 299.6 660.5 318.6 660.2 335.6ZM676.7 106.0 676.2 105.6 674.2 98.6 674.1 97.6 673.5 77.6 672.9 39.6 681.1 39.6 680.2 74.6 679.2 93.3 678.7 98.9 676.7 106.0ZM836.7 335.6 829.2 335.6 828.0 310.6 824.2 250.6 821.3 110.6 821.1 39.6 831.5 39.6 833.1 109.6 834.8 249.6 836.7 299.6 836.7 335.6Z"/><path fill="#f2c034" d="M659.7 335.6 654.4 335.6 653.7 313.6 652.7 294.4 651.5 249.6 651.7 199.6 650.8 105.6 650.5 39.6 659.1 39.6 659.7 131.1 661.3 249.6 660.7 299.6 660.2 311.6 659.7 335.6ZM676.7 97.1 676.2 96.5 675.6 92.6 674.2 80.2 673.3 39.6 680.7 39.6 679.7 75.7 678.4 87.6 676.7 97.1ZM836.2 335.6 829.6 335.6 828.5 310.6 825.0 250.6 821.7 109.6 821.7 39.6 830.9 39.6 831.4 68.6 832.7 110.5 834.1 249.6 836.2 299.6 836.2 335.6Z"/><path fill="#f0a02a" d="M658.7 335.6 655.2 335.6 653.4 288.6 652.2 250.6 652.3 199.6 651.2 104.6 650.9 39.6 658.7 39.6 659.0 105.6 660.6 249.6 659.8 299.6 659.0 335.6 658.7 335.6ZM676.7 86.2 675.5 76.6 674.7 65.3 674.0 39.6 680.0 39.6 679.5 56.6 678.7 69.5 678.2 75.8 676.7 86.2ZM835.2 335.6 830.3 335.6 825.9 249.6 823.6 160.6 823.0 110.6 823.2 76.6 824.1 39.6 828.5 39.6 830.9 94.6 831.5 110.6 832.4 159.6 833.1 249.6 835.4 300.6 835.6 335.6 835.2 335.6Z"/><path fill="#e86a22" d="M657.7 335.6 656.2 335.6 655.5 312.6 654.7 296.9 653.0 250.6 652.8 199.6 651.7 104.6 651.4 39.6 658.2 39.6 658.5 105.6 659.8 249.6 658.0 335.6 657.7 335.6ZM676.7 73.3 674.7 39.6 679.3 39.6 677.2 69.5 676.7 73.3ZM834.7 335.6 831.3 335.6 831.2 335.0 830.3 313.6 827.2 254.9 826.7 240.6 824.5 159.6 824.2 110.6 824.8 93.6 825.2 69.6 826.2 56.8 826.7 56.5 828.2 72.7 829.1 93.6 830.2 110.2 831.5 160.6 832.0 249.6 834.2 294.1 834.7 335.6Z"/><path fill="#e03a1a" d="M656.7 289.7 654.2 254.2 653.7 240.4 652.1 104.6 651.8 39.6 657.8 39.6 658.9 199.6 658.9 239.6 658.7 253.7 656.7 289.7ZM677.2 48.7 676.7 48.5 676.2 39.6 677.8 39.6 677.2 48.7ZM829.2 241.3 826.1 160.6 827.2 110.3 829.9 160.6 829.5 231.6 829.2 241.3Z"/><path fill="#de0c18" d="M656.2 239.8 654.2 209.6 653.7 195.2 652.5 105.6 652.1 39.6 657.5 39.6 658.3 160.6 658.3 199.6 658.2 207.3 657.4 223.6 656.7 236.3 656.2 239.8Z"/><path fill="#d4041a" d="M656.2 197.4 655.7 193.0 653.7 155.9 653.2 128.9 652.7 75.2 652.6 39.6 656.9 39.6 657.3 120.6 657.7 150.2 656.2 197.4Z"/></g></svg>
<path d="M571.2 184.4H876.0" stroke="#1a1a30" stroke-width="2.4" stroke-dasharray="6.5 7.3"/>
<rect x="571.2" y="41.6" width="304.8" height="292.9" fill="none" stroke="#0a1a60" stroke-width="1.3"/>
<path d="M571.2 334.5v5M609.3 334.5v3M647.4 334.5v5M685.5 334.5v3M723.6 334.5v5M761.7 334.5v3M799.8 334.5v5M837.9 334.5v3M876.0 334.5v5M571.2 334.5h-5.5M571.2 317.1h-3M571.2 299.6h-5.5M571.2 282.1h-3M571.2 264.7h-5.5M571.2 247.2h-3M571.2 229.8h-5.5M571.2 212.3h-3M571.2 194.9h-5.5M571.2 177.4h-3M571.2 160.0h-5.5M571.2 142.5h-3M571.2 125.1h-5.5M571.2 107.7h-3M571.2 90.2h-5.5M571.2 72.8h-3M571.2 55.3h-5.5" stroke="#222" stroke-width="1.2" fill="none"/>
<g font-size="12" fill="#222" text-anchor="end">
<text x="561.5" y="338.8">0.00</text>
<text x="561.5" y="303.9">0.05</text>
<text x="561.5" y="269.0">0.10</text>
<text x="561.5" y="234.1">0.15</text>
<text x="561.5" y="199.2">0.20</text>
<text x="561.5" y="164.3">0.25</text>
<text x="561.5" y="129.4">0.30</text>
<text x="561.5" y="94.5">0.35</text>
<text x="561.5" y="59.6">0.40</text>
</g>
<g font-size="12" fill="#222" text-anchor="middle">
<text x="571.2" y="354">2.8</text>
<text x="647.4" y="354">3.0</text>
<text x="723.6" y="354">3.2</text>
<text x="799.8" y="354">3.4</text>
<text x="876.0" y="354">3.6</text>
</g>
<text transform="translate(528.5 187) rotate(-90)" font-size="15" fill="#222" text-anchor="middle">True strain</text>
<text x="704" y="378.3" font-size="15" fill="#222">q(Å<tspan font-size="10" dy="-6">-1</tspan><tspan dy="6">)</tspan></text>
<text x="509" y="24.2" font-size="22.5" fill="#222">(b)</text>
<text transform="translate(579.3 31.8) scale(0.95 1)" font-size="15.8" fill="#222">1010</text><text x="612.3" y="35.8" font-size="10.6" fill="#222">HCP</text>
<text transform="translate(635.3 31.8) scale(0.95 1)" font-size="15.8" fill="#222">111</text><text x="659.6" y="35.6" font-size="10.6" fill="#222">FCC</text>
<text transform="translate(660 10.8) scale(0.95 1)" font-size="15.8" fill="#222">110</text><text x="684.4" y="14.7" font-size="10.6" fill="#222">BCC</text>
<text transform="translate(723.5 32.7) scale(0.95 1)" font-size="15.8" fill="#222">1011</text><text x="757" y="36" font-size="10.6" fill="#222">HCP</text>
<text transform="translate(809.6 34.2) scale(0.95 1)" font-size="15.8" fill="#222">200</text><text x="835.3" y="37.9" font-size="10.6" fill="#222">FCC</text>
<path d="M597.3 18.1h6.8M741.3 18.2h6.6" stroke="#222" stroke-width="1.6"/>
<rect x="922.3" y="41.80" width="23.9" height="13.60" fill="#d4041a"/>
<rect x="922.3" y="55.10" width="23.9" height="13.60" fill="#de0c18"/>
<rect x="922.3" y="68.41" width="23.9" height="13.60" fill="#e03a1a"/>
<rect x="922.3" y="81.71" width="23.9" height="13.60" fill="#e86a22"/>
<rect x="922.3" y="95.02" width="23.9" height="13.60" fill="#f0a02a"/>
<rect x="922.3" y="108.32" width="23.9" height="13.60" fill="#f2c034"/>
<rect x="922.3" y="121.63" width="23.9" height="13.60" fill="#fcf030"/>
<rect x="922.3" y="134.93" width="23.9" height="13.60" fill="#e6f43a"/>
<rect x="922.3" y="148.24" width="23.9" height="13.60" fill="#c8f440"/>
<rect x="922.3" y="161.54" width="23.9" height="13.60" fill="#b0f040"/>
<rect x="922.3" y="174.85" width="23.9" height="13.60" fill="#a0f040"/>
<rect x="922.3" y="188.15" width="23.9" height="13.60" fill="#98f048"/>
<rect x="922.3" y="201.45" width="23.9" height="13.60" fill="#90f060"/>
<rect x="922.3" y="214.76" width="23.9" height="13.60" fill="#88f088"/>
<rect x="922.3" y="228.06" width="23.9" height="13.60" fill="#88f0b0"/>
<rect x="922.3" y="241.37" width="23.9" height="13.60" fill="#88f4d8"/>
<rect x="922.3" y="254.67" width="23.9" height="13.60" fill="#88f8f8"/>
<rect x="922.3" y="267.98" width="23.9" height="13.60" fill="#70c8f8"/>
<rect x="922.3" y="281.28" width="23.9" height="13.60" fill="#5098f0"/>
<rect x="922.3" y="294.59" width="23.9" height="13.60" fill="#3070f0"/>
<rect x="922.3" y="307.89" width="23.9" height="13.60" fill="#1048f0"/>
<rect x="922.3" y="321.20" width="23.9" height="13.60" fill="#0c38f0"/>
<rect x="922.3" y="41.8" width="23.9" height="292.7" fill="none" stroke="#333" stroke-width="0.8"/>
<g font-size="10" fill="#222">
<text x="955" y="58.5">6000</text>
<text x="955" y="71.8">4889</text>
<text x="955" y="85.1">3984</text>
<text x="955" y="98.4">3247</text>
<text x="955" y="111.7">2646</text>
<text x="955" y="125.0">2156</text>
<text x="955" y="138.3">1757</text>
<text x="955" y="151.6">1432</text>
<text x="955" y="164.9">1167</text>
<text x="955" y="178.2">950.6</text>
<text x="955" y="191.5">774.6</text>
<text x="955" y="204.9">631.2</text>
<text x="955" y="218.2">514.4</text>
<text x="955" y="231.5">419.1</text>
<text x="955" y="244.8">341.5</text>
<text x="955" y="258.1">278.3</text>
<text x="955" y="271.4">226.8</text>
<text x="955" y="284.7">184.8</text>
<text x="955" y="298.0">150.6</text>
<text x="955" y="311.3">122.7</text>
<text x="955" y="324.6">100.0</text>
</g>
<path d="M946.2 55.1h5M946.2 68.4h5M946.2 81.7h5M946.2 95.0h5M946.2 108.3h5M946.2 121.6h5M946.2 134.9h5M946.2 148.2h5M946.2 161.5h5M946.2 174.8h5M946.2 188.1h5M946.2 201.5h5M946.2 214.8h5M946.2 228.1h5M946.2 241.4h5M946.2 254.7h5M946.2 268.0h5M946.2 281.3h5M946.2 294.6h5M946.2 307.9h5M946.2 321.2h5" stroke="#333" stroke-width="1"/>
<text x="943.5" y="13.8" font-size="15" fill="#222" text-anchor="middle">Intensity</text>
<text x="945" y="31.3" font-size="15" fill="#222" text-anchor="middle">(neutron counts)</text>
</svg></body></html>
